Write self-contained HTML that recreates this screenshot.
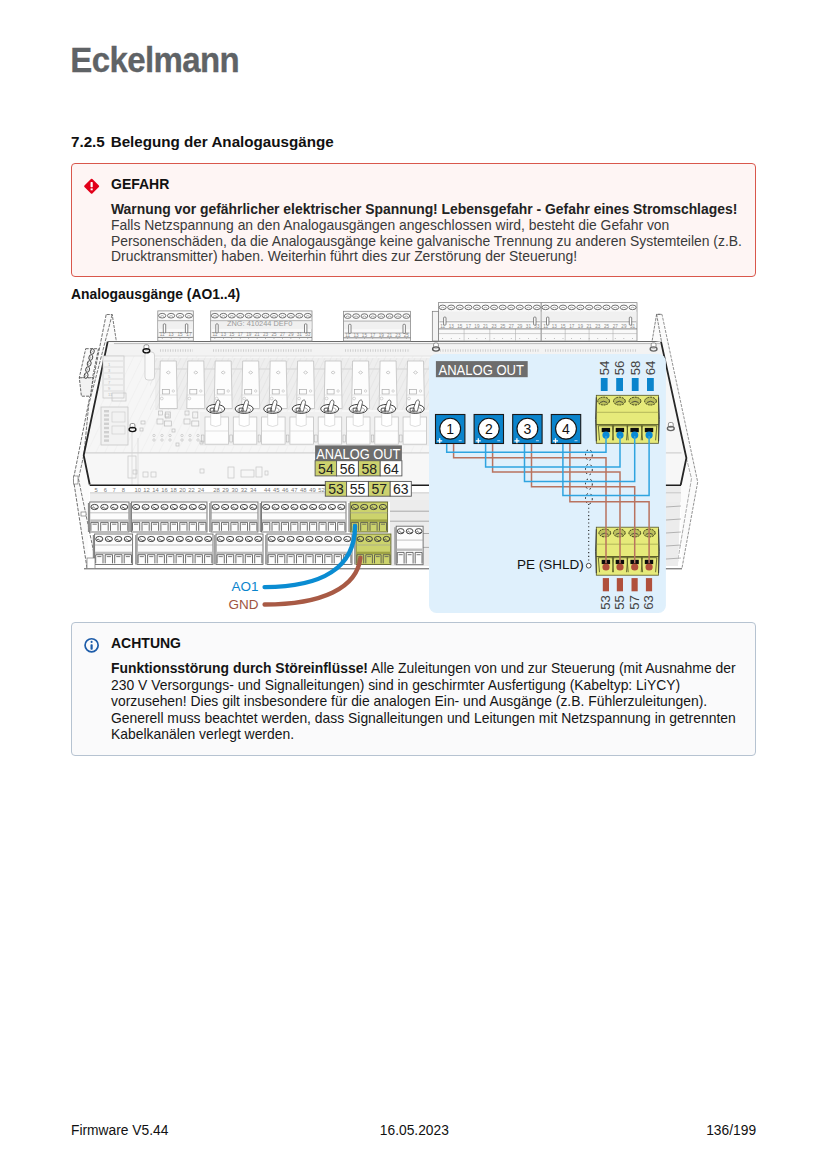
<!DOCTYPE html>
<html><head><meta charset="utf-8">
<style>
html,body{margin:0;padding:0;background:#fff;}
body{width:827px;height:1169px;position:relative;overflow:hidden;font-family:"Liberation Sans",sans-serif;color:#222;}
.abs{position:absolute;white-space:nowrap;}
.box{position:absolute;border-radius:4px;box-sizing:border-box;}
#danger{left:70.8px;top:162.9px;width:685.2px;height:114.1px;border:1.8px solid #d9574c;background:#fef5f4;}
#warn{left:70.8px;top:622.1px;width:685.3px;height:133.9px;border:1.8px solid #b6c3d1;background:#fafafb;}
</style></head>
<body>
<div class="abs" style="left:70.3px;top:41.07px;font-size:33px;line-height:40px;color:#5f6366;font-weight:bold;letter-spacing:-0.62px;-webkit-text-stroke:0.3px #5f6366;transform:scaleY(1.065);transform-origin:0 31.5px;">Eckelmann</div>
<div class="abs" style="left:71px;top:132.78px;font-size:15.2px;line-height:18px;color:#111;font-weight:bold;">7.2.5</div>
<div class="abs" style="left:110.7px;top:132.78px;font-size:15.2px;line-height:18px;color:#111;font-weight:bold;">Belegung der Analogausgänge</div>
<div class="box" id="danger"></div>
<svg class="abs" style="left:83px;top:178px" width="17" height="17" viewBox="0 0 17 17"><polygon points="8.65,1.7 15.15,8.2 8.65,14.7 2.15,8.2" fill="#e2001a" stroke="#e2001a" stroke-width="2" stroke-linejoin="round"/><rect x="7.55" y="4.1" width="2.2" height="5.1" rx="0.6" fill="#fff"/><rect x="7.6" y="10.4" width="2.1" height="1.9" fill="#fff"/></svg>
<div class="abs" style="left:111px;top:175.75px;font-size:14px;line-height:16px;color:#111;font-weight:bold;">GEFAHR</div>
<div class="abs" style="left:111px;top:200.88px;font-size:13.9px;line-height:16px;color:#3a3a3a;"><b style='color:#222'>Warnung vor gefährlicher elektrischer Spannung! Lebensgefahr - Gefahr eines Stromschlages!</b></div>
<div class="abs" style="left:111px;top:216.75px;font-size:13.9px;line-height:16px;color:#3a3a3a;">Falls Netzspannung an den Analogausgängen angeschlossen wird, besteht die Gefahr von</div>
<div class="abs" style="left:111px;top:232.62px;font-size:13.9px;line-height:16px;color:#3a3a3a;">Personenschäden, da die Analogausgänge keine galvanische Trennung zu anderen Systemteilen (z.B.</div>
<div class="abs" style="left:111px;top:248.49px;font-size:13.9px;line-height:16px;color:#3a3a3a;">Drucktransmitter) haben. Weiterhin führt dies zur Zerstörung der Steuerung!</div>
<div class="abs" style="left:71px;top:286.18px;font-size:13.9px;line-height:16px;color:#111;font-weight:bold;">Analogausgänge (AO1..4)</div>
<svg class="abs" style="left:0;top:0" width="827" height="1169" viewBox="0 0 827 1169" font-family="Liberation Sans, sans-serif">
<polygon points="107.7,341.6 660,341.6 686,458 680.7,485 89.7,485 83.7,455.3" fill="#f6f6f6"/>
<clipPath id="bodyclip"><polygon points="107.7,343 660,343 686,458 680.7,484 89.7,484 83.7,455.3"/></clipPath>
<path d="M-100,485 L-30,342 M-91,485 L-21,342 M-82,485 L-12,342 M-73,485 L-3,342 M-64,485 L6,342 M-55,485 L15,342 M-46,485 L24,342 M-37,485 L33,342 M-28,485 L42,342 M-19,485 L51,342 M-10,485 L60,342 M-1,485 L69,342 M8,485 L78,342 M17,485 L87,342 M26,485 L96,342 M35,485 L105,342 M44,485 L114,342 M53,485 L123,342 M62,485 L132,342 M71,485 L141,342 M80,485 L150,342 M89,485 L159,342 M98,485 L168,342 M107,485 L177,342 M116,485 L186,342 M125,485 L195,342 M134,485 L204,342 M143,485 L213,342 M152,485 L222,342 M161,485 L231,342 M170,485 L240,342 M179,485 L249,342 M188,485 L258,342 M197,485 L267,342 M206,485 L276,342 M215,485 L285,342 M224,485 L294,342 M233,485 L303,342 M242,485 L312,342 M251,485 L321,342 M260,485 L330,342 M269,485 L339,342 M278,485 L348,342 M287,485 L357,342 M296,485 L366,342 M305,485 L375,342 M314,485 L384,342 M323,485 L393,342 M332,485 L402,342 M341,485 L411,342 M350,485 L420,342 M359,485 L429,342 M368,485 L438,342 M377,485 L447,342 M386,485 L456,342 M395,485 L465,342 M404,485 L474,342 M413,485 L483,342 M422,485 L492,342 M431,485 L501,342 M440,485 L510,342 M449,485 L519,342 M458,485 L528,342 M467,485 L537,342 M476,485 L546,342 M485,485 L555,342 M494,485 L564,342 M503,485 L573,342 M512,485 L582,342 M521,485 L591,342 M530,485 L600,342 M539,485 L609,342 M548,485 L618,342 M557,485 L627,342 M566,485 L636,342 M575,485 L645,342 M584,485 L654,342 M593,485 L663,342 M602,485 L672,342 M611,485 L681,342" stroke="#ededed" stroke-width="0.6" clip-path="url(#bodyclip)"/>
<rect x="104" y="344" width="560" height="12" fill="#f3f3f3"/>
<line x1="104" y1="356" x2="664" y2="356" stroke="#dcdcdc" stroke-width="0.7"/>
<polygon points="84.5,452.4 681.5,452.4 680.7,485 89.7,485" fill="#f7f7f7"/>
<line x1="84.5" y1="452.9" x2="681.5" y2="452.9" stroke="#bdbdbd" stroke-width="0.8"/>
<polygon points="106.8,314.5 112.2,314.5 116.4,341.6 107.7,341.6 83.7,455.3 89.7,484.5 87,568 73.4,479.3" fill="#fbfbfb"/>
<polyline points="106.8,314.5 112.2,314.5 116.4,341.6" fill="none" stroke="#555" stroke-width="0.8" stroke-dasharray="3,1"/>
<polyline points="106.2,314.5 73.4,479.3 87,568" fill="none" stroke="#555" stroke-width="0.85" stroke-dasharray="3.5,1.3"/>
<polyline points="112.2,314.5 88.7,405 84,454 78.5,479 93.6,551.5" fill="none" stroke="#555" stroke-width="0.8" stroke-dasharray="3.5,1.3"/>
<rect x="73.5" y="476" width="4.5" height="8" fill="#fff" stroke="#666" stroke-width="0.6"/>
<rect x="81" y="512" width="5" height="4" fill="#fff" stroke="#666" stroke-width="0.6"/>
<polyline points="107.7,341.6 83.7,455.3 89.7,484.5" fill="none" stroke="#262626" stroke-width="1.8"/>
<polygon points="85.7,348.7 98.5,348.7 92.5,377.8 79.3,377.8" fill="#fafafa" stroke="#444" stroke-width="0.8" stroke-dasharray="3,1.2"/>
<polygon points="79.3,377.8 93,377.8 90.4,396.2 81.4,396.2" fill="#f2f2f2" stroke="#444" stroke-width="0.8" stroke-dasharray="3,1.2"/>
<ellipse cx="92.3" cy="351.5" rx="1.9" ry="2.8" transform="rotate(12 92.3 351.5)" fill="#fff" stroke="#333" stroke-width="0.85"/>
<path d="M91.5,350.3 q1.6,1.2 0,2.4" fill="none" stroke="#555" stroke-width="0.6"/>
<ellipse cx="90.8" cy="357.5" rx="1.9" ry="2.8" transform="rotate(12 90.8 357.5)" fill="#fff" stroke="#333" stroke-width="0.85"/>
<path d="M90.0,356.3 q1.6,1.2 0,2.4" fill="none" stroke="#555" stroke-width="0.6"/>
<ellipse cx="89.2" cy="363.5" rx="1.9" ry="2.8" transform="rotate(12 89.2 363.5)" fill="#fff" stroke="#333" stroke-width="0.85"/>
<path d="M88.4,362.3 q1.6,1.2 0,2.4" fill="none" stroke="#555" stroke-width="0.6"/>
<ellipse cx="87.6" cy="369.5" rx="1.9" ry="2.8" transform="rotate(12 87.6 369.5)" fill="#fff" stroke="#333" stroke-width="0.85"/>
<path d="M86.8,368.3 q1.6,1.2 0,2.4" fill="none" stroke="#555" stroke-width="0.6"/>
<ellipse cx="86.1" cy="375.5" rx="1.9" ry="2.8" transform="rotate(12 86.1 375.5)" fill="#fff" stroke="#333" stroke-width="0.85"/>
<path d="M85.3,374.3 q1.6,1.2 0,2.4" fill="none" stroke="#555" stroke-width="0.6"/>
<line x1="107.7" y1="341.5" x2="660" y2="341.5" stroke="#6a6a6a" stroke-width="1.2"/>
<line x1="114" y1="343.6" x2="660" y2="343.6" stroke="#aaa" stroke-width="0.8"/>
<polygon points="652.2,340.5 656.6,314.3 662,314.4 697.7,482 682,568 680.7,485 686.4,458 662,342" fill="#fbfbfb"/>
<polyline points="657,314.4 662,314.4 697.7,482 682,568" fill="none" stroke="#777" stroke-width="0.8" stroke-dasharray="3,1.2"/>
<polyline points="652.2,340.5 656.6,314.3 661.9,314.3" fill="none" stroke="#666" stroke-width="0.8" stroke-dasharray="3,1"/>
<polyline points="656.6,314.3 661.5,341.6" fill="none" stroke="#666" stroke-width="0.8" stroke-dasharray="3,1"/>
<polyline points="686.4,458 691.5,478.6 677,565" fill="none" stroke="#888" stroke-width="0.7" stroke-dasharray="4,1.2"/>
<polygon points="666,486 681,486 678,566 666,566" fill="#ececec"/>
<polyline points="661,341.6 686.4,458 680.7,485" fill="none" stroke="#262626" stroke-width="1.8"/>
<line x1="666" y1="495" x2="681" y2="494" stroke="#999" stroke-width="0.7"/>
<line x1="666" y1="507" x2="681" y2="506" stroke="#999" stroke-width="0.7"/>
<line x1="666" y1="520" x2="681" y2="519" stroke="#999" stroke-width="0.7"/>
<line x1="666" y1="533" x2="681" y2="532" stroke="#999" stroke-width="0.7"/>
<line x1="666" y1="546" x2="681" y2="545" stroke="#999" stroke-width="0.7"/>
<line x1="666" y1="559" x2="681" y2="558" stroke="#999" stroke-width="0.7"/>
<rect x="157.8" y="310.9" width="35.5" height="30.1" fill="#f9f9f9" stroke="#8a8a8a" stroke-width="0.8"/>
<rect x="158.3" y="319.9" width="34.5" height="9" fill="#f0f0f0"/>
<line x1="157.8" y1="320.7" x2="193.3" y2="320.7" stroke="#9a9a9a" stroke-width="0.7"/>
<line x1="158.8" y1="332.6" x2="192.3" y2="332.6" stroke="#8a8a8a" stroke-width="0.7"/>
<line x1="157.8" y1="337.4" x2="193.3" y2="337.4" stroke="#6a6a6a" stroke-width="0.8"/>
<ellipse cx="162.2" cy="315.7" rx="3.6" ry="2.3" fill="#fff" stroke="#5a5a5a" stroke-width="0.85"/>
<path d="M160.2,316.5 q2,-2 4,0" fill="none" stroke="#777" stroke-width="0.6"/>
<text x="162.2" y="336.2" font-size="4.6" fill="#8a8a8a" text-anchor="middle">11</text>
<circle cx="162.2" cy="338.5" r="0.45" fill="#888"/>
<ellipse cx="171.1" cy="315.7" rx="3.6" ry="2.3" fill="#fff" stroke="#5a5a5a" stroke-width="0.85"/>
<path d="M169.1,316.5 q2,-2 4,0" fill="none" stroke="#777" stroke-width="0.6"/>
<text x="171.1" y="336.2" font-size="4.6" fill="#8a8a8a" text-anchor="middle">13</text>
<circle cx="171.1" cy="338.5" r="0.45" fill="#888"/>
<ellipse cx="180.0" cy="315.7" rx="3.6" ry="2.3" fill="#fff" stroke="#5a5a5a" stroke-width="0.85"/>
<path d="M178.0,316.5 q2,-2 4,0" fill="none" stroke="#777" stroke-width="0.6"/>
<text x="180.0" y="336.2" font-size="4.6" fill="#8a8a8a" text-anchor="middle">15</text>
<circle cx="180.0" cy="338.5" r="0.45" fill="#888"/>
<ellipse cx="188.9" cy="315.7" rx="3.6" ry="2.3" fill="#fff" stroke="#5a5a5a" stroke-width="0.85"/>
<path d="M186.9,316.5 q2,-2 4,0" fill="none" stroke="#777" stroke-width="0.6"/>
<text x="188.9" y="336.2" font-size="4.6" fill="#8a8a8a" text-anchor="middle">17</text>
<circle cx="188.9" cy="338.5" r="0.45" fill="#888"/>
<rect x="163.3" y="323.9" width="2.4" height="9.0" rx="0.8" fill="#fff" stroke="#555" stroke-width="0.7"/>
<rect x="185.4" y="323.9" width="2.4" height="9.0" rx="0.8" fill="#fff" stroke="#555" stroke-width="0.7"/>
<rect x="210.7" y="310.9" width="101.3" height="30.1" fill="#f9f9f9" stroke="#8a8a8a" stroke-width="0.8"/>
<rect x="211.2" y="319.9" width="100.3" height="9" fill="#f0f0f0"/>
<line x1="210.7" y1="320.7" x2="312" y2="320.7" stroke="#9a9a9a" stroke-width="0.7"/>
<line x1="211.7" y1="332.6" x2="311" y2="332.6" stroke="#8a8a8a" stroke-width="0.7"/>
<line x1="210.7" y1="337.4" x2="312" y2="337.4" stroke="#6a6a6a" stroke-width="0.8"/>
<ellipse cx="214.9" cy="315.7" rx="3.5" ry="2.3" fill="#fff" stroke="#5a5a5a" stroke-width="0.85"/>
<path d="M212.9,316.5 q2,-2 4,0" fill="none" stroke="#777" stroke-width="0.6"/>
<text x="214.9" y="336.2" font-size="4.6" fill="#8a8a8a" text-anchor="middle">11</text>
<circle cx="214.9" cy="338.5" r="0.45" fill="#888"/>
<ellipse cx="223.4" cy="315.7" rx="3.5" ry="2.3" fill="#fff" stroke="#5a5a5a" stroke-width="0.85"/>
<path d="M221.4,316.5 q2,-2 4,0" fill="none" stroke="#777" stroke-width="0.6"/>
<text x="223.4" y="336.2" font-size="4.6" fill="#8a8a8a" text-anchor="middle">13</text>
<circle cx="223.4" cy="338.5" r="0.45" fill="#888"/>
<ellipse cx="231.8" cy="315.7" rx="3.5" ry="2.3" fill="#fff" stroke="#5a5a5a" stroke-width="0.85"/>
<path d="M229.8,316.5 q2,-2 4,0" fill="none" stroke="#777" stroke-width="0.6"/>
<text x="231.8" y="336.2" font-size="4.6" fill="#8a8a8a" text-anchor="middle">15</text>
<circle cx="231.8" cy="338.5" r="0.45" fill="#888"/>
<ellipse cx="240.2" cy="315.7" rx="3.5" ry="2.3" fill="#fff" stroke="#5a5a5a" stroke-width="0.85"/>
<path d="M238.2,316.5 q2,-2 4,0" fill="none" stroke="#777" stroke-width="0.6"/>
<text x="240.2" y="336.2" font-size="4.6" fill="#8a8a8a" text-anchor="middle">17</text>
<circle cx="240.2" cy="338.5" r="0.45" fill="#888"/>
<ellipse cx="248.7" cy="315.7" rx="3.5" ry="2.3" fill="#fff" stroke="#5a5a5a" stroke-width="0.85"/>
<path d="M246.7,316.5 q2,-2 4,0" fill="none" stroke="#777" stroke-width="0.6"/>
<text x="248.7" y="336.2" font-size="4.6" fill="#8a8a8a" text-anchor="middle">19</text>
<circle cx="248.7" cy="338.5" r="0.45" fill="#888"/>
<ellipse cx="257.1" cy="315.7" rx="3.5" ry="2.3" fill="#fff" stroke="#5a5a5a" stroke-width="0.85"/>
<path d="M255.1,316.5 q2,-2 4,0" fill="none" stroke="#777" stroke-width="0.6"/>
<text x="257.1" y="336.2" font-size="4.6" fill="#8a8a8a" text-anchor="middle">21</text>
<circle cx="257.1" cy="338.5" r="0.45" fill="#888"/>
<ellipse cx="265.6" cy="315.7" rx="3.5" ry="2.3" fill="#fff" stroke="#5a5a5a" stroke-width="0.85"/>
<path d="M263.6,316.5 q2,-2 4,0" fill="none" stroke="#777" stroke-width="0.6"/>
<text x="265.6" y="336.2" font-size="4.6" fill="#8a8a8a" text-anchor="middle">23</text>
<circle cx="265.6" cy="338.5" r="0.45" fill="#888"/>
<ellipse cx="274.0" cy="315.7" rx="3.5" ry="2.3" fill="#fff" stroke="#5a5a5a" stroke-width="0.85"/>
<path d="M272.0,316.5 q2,-2 4,0" fill="none" stroke="#777" stroke-width="0.6"/>
<text x="274.0" y="336.2" font-size="4.6" fill="#8a8a8a" text-anchor="middle">25</text>
<circle cx="274.0" cy="338.5" r="0.45" fill="#888"/>
<ellipse cx="282.5" cy="315.7" rx="3.5" ry="2.3" fill="#fff" stroke="#5a5a5a" stroke-width="0.85"/>
<path d="M280.5,316.5 q2,-2 4,0" fill="none" stroke="#777" stroke-width="0.6"/>
<text x="282.5" y="336.2" font-size="4.6" fill="#8a8a8a" text-anchor="middle">27</text>
<circle cx="282.5" cy="338.5" r="0.45" fill="#888"/>
<ellipse cx="290.9" cy="315.7" rx="3.5" ry="2.3" fill="#fff" stroke="#5a5a5a" stroke-width="0.85"/>
<path d="M288.9,316.5 q2,-2 4,0" fill="none" stroke="#777" stroke-width="0.6"/>
<text x="290.9" y="336.2" font-size="4.6" fill="#8a8a8a" text-anchor="middle">29</text>
<circle cx="290.9" cy="338.5" r="0.45" fill="#888"/>
<ellipse cx="299.3" cy="315.7" rx="3.5" ry="2.3" fill="#fff" stroke="#5a5a5a" stroke-width="0.85"/>
<path d="M297.3,316.5 q2,-2 4,0" fill="none" stroke="#777" stroke-width="0.6"/>
<text x="299.3" y="336.2" font-size="4.6" fill="#8a8a8a" text-anchor="middle">31</text>
<circle cx="299.3" cy="338.5" r="0.45" fill="#888"/>
<ellipse cx="307.8" cy="315.7" rx="3.5" ry="2.3" fill="#fff" stroke="#5a5a5a" stroke-width="0.85"/>
<path d="M305.8,316.5 q2,-2 4,0" fill="none" stroke="#777" stroke-width="0.6"/>
<text x="307.8" y="336.2" font-size="4.6" fill="#8a8a8a" text-anchor="middle">33</text>
<circle cx="307.8" cy="338.5" r="0.45" fill="#888"/>
<rect x="215.8" y="323.9" width="2.4" height="9.0" rx="0.8" fill="#fff" stroke="#555" stroke-width="0.7"/>
<rect x="304.5" y="323.9" width="2.4" height="9.0" rx="0.8" fill="#fff" stroke="#555" stroke-width="0.7"/>
<rect x="343.5" y="311.3" width="67.0" height="29.7" fill="#f9f9f9" stroke="#8a8a8a" stroke-width="0.8"/>
<rect x="344.0" y="320.3" width="66.0" height="9" fill="#f0f0f0"/>
<line x1="343.5" y1="321.1" x2="410.5" y2="321.1" stroke="#9a9a9a" stroke-width="0.7"/>
<line x1="344.5" y1="333.0" x2="409.5" y2="333.0" stroke="#8a8a8a" stroke-width="0.7"/>
<line x1="343.5" y1="337.8" x2="410.5" y2="337.8" stroke="#6a6a6a" stroke-width="0.8"/>
<ellipse cx="347.7" cy="316.1" rx="3.4" ry="2.3" fill="#fff" stroke="#5a5a5a" stroke-width="0.85"/>
<path d="M345.7,316.9 q2,-2 4,0" fill="none" stroke="#777" stroke-width="0.6"/>
<text x="347.7" y="336.6" font-size="4.6" fill="#8a8a8a" text-anchor="middle">11</text>
<circle cx="347.7" cy="338.5" r="0.45" fill="#888"/>
<ellipse cx="356.1" cy="316.1" rx="3.4" ry="2.3" fill="#fff" stroke="#5a5a5a" stroke-width="0.85"/>
<path d="M354.1,316.9 q2,-2 4,0" fill="none" stroke="#777" stroke-width="0.6"/>
<text x="356.1" y="336.6" font-size="4.6" fill="#8a8a8a" text-anchor="middle">13</text>
<circle cx="356.1" cy="338.5" r="0.45" fill="#888"/>
<ellipse cx="364.4" cy="316.1" rx="3.4" ry="2.3" fill="#fff" stroke="#5a5a5a" stroke-width="0.85"/>
<path d="M362.4,316.9 q2,-2 4,0" fill="none" stroke="#777" stroke-width="0.6"/>
<text x="364.4" y="336.6" font-size="4.6" fill="#8a8a8a" text-anchor="middle">15</text>
<circle cx="364.4" cy="338.5" r="0.45" fill="#888"/>
<ellipse cx="372.8" cy="316.1" rx="3.4" ry="2.3" fill="#fff" stroke="#5a5a5a" stroke-width="0.85"/>
<path d="M370.8,316.9 q2,-2 4,0" fill="none" stroke="#777" stroke-width="0.6"/>
<text x="372.8" y="336.6" font-size="4.6" fill="#8a8a8a" text-anchor="middle">17</text>
<circle cx="372.8" cy="338.5" r="0.45" fill="#888"/>
<ellipse cx="381.2" cy="316.1" rx="3.4" ry="2.3" fill="#fff" stroke="#5a5a5a" stroke-width="0.85"/>
<path d="M379.2,316.9 q2,-2 4,0" fill="none" stroke="#777" stroke-width="0.6"/>
<text x="381.2" y="336.6" font-size="4.6" fill="#8a8a8a" text-anchor="middle">19</text>
<circle cx="381.2" cy="338.5" r="0.45" fill="#888"/>
<ellipse cx="389.6" cy="316.1" rx="3.4" ry="2.3" fill="#fff" stroke="#5a5a5a" stroke-width="0.85"/>
<path d="M387.6,316.9 q2,-2 4,0" fill="none" stroke="#777" stroke-width="0.6"/>
<text x="389.6" y="336.6" font-size="4.6" fill="#8a8a8a" text-anchor="middle">21</text>
<circle cx="389.6" cy="338.5" r="0.45" fill="#888"/>
<ellipse cx="397.9" cy="316.1" rx="3.4" ry="2.3" fill="#fff" stroke="#5a5a5a" stroke-width="0.85"/>
<path d="M395.9,316.9 q2,-2 4,0" fill="none" stroke="#777" stroke-width="0.6"/>
<text x="397.9" y="336.6" font-size="4.6" fill="#8a8a8a" text-anchor="middle">23</text>
<circle cx="397.9" cy="338.5" r="0.45" fill="#888"/>
<ellipse cx="406.3" cy="316.1" rx="3.4" ry="2.3" fill="#fff" stroke="#5a5a5a" stroke-width="0.85"/>
<path d="M404.3,316.9 q2,-2 4,0" fill="none" stroke="#777" stroke-width="0.6"/>
<text x="406.3" y="336.6" font-size="4.6" fill="#8a8a8a" text-anchor="middle">25</text>
<circle cx="406.3" cy="338.5" r="0.45" fill="#888"/>
<rect x="348.6" y="324.3" width="2.4" height="9.0" rx="0.8" fill="#fff" stroke="#555" stroke-width="0.7"/>
<rect x="403.0" y="324.3" width="2.4" height="9.0" rx="0.8" fill="#fff" stroke="#555" stroke-width="0.7"/>
<rect x="438.4" y="302.6" width="102.8" height="38.4" fill="#f9f9f9" stroke="#8a8a8a" stroke-width="0.8"/>
<rect x="438.9" y="311.6" width="101.8" height="9" fill="#f0f0f0"/>
<line x1="438.4" y1="333.6" x2="541.2" y2="333.6" stroke="#b0b0b0" stroke-width="0.6"/>
<line x1="464.1" y1="328.9" x2="464.1" y2="341" stroke="#b0b0b0" stroke-width="0.6"/>
<line x1="489.8" y1="328.9" x2="489.8" y2="341" stroke="#b0b0b0" stroke-width="0.6"/>
<line x1="515.5" y1="328.9" x2="515.5" y2="341" stroke="#b0b0b0" stroke-width="0.6"/>
<line x1="439.4" y1="321.8" x2="540.2" y2="321.8" stroke="#8a8a8a" stroke-width="0.7"/>
<line x1="438.4" y1="328.9" x2="541.2" y2="328.9" stroke="#6a6a6a" stroke-width="0.8"/>
<ellipse cx="442.7" cy="307.4" rx="3.5" ry="2.3" fill="#fff" stroke="#5a5a5a" stroke-width="0.85"/>
<path d="M440.7,308.2 q2,-2 4,0" fill="none" stroke="#777" stroke-width="0.6"/>
<text x="442.7" y="327.9" font-size="4.6" fill="#8a8a8a" text-anchor="middle">11</text>
<circle cx="442.7" cy="338.5" r="0.45" fill="#888"/>
<ellipse cx="451.2" cy="307.4" rx="3.5" ry="2.3" fill="#fff" stroke="#5a5a5a" stroke-width="0.85"/>
<path d="M449.2,308.2 q2,-2 4,0" fill="none" stroke="#777" stroke-width="0.6"/>
<text x="451.2" y="327.9" font-size="4.6" fill="#8a8a8a" text-anchor="middle">13</text>
<circle cx="451.2" cy="338.5" r="0.45" fill="#888"/>
<ellipse cx="459.8" cy="307.4" rx="3.5" ry="2.3" fill="#fff" stroke="#5a5a5a" stroke-width="0.85"/>
<path d="M457.8,308.2 q2,-2 4,0" fill="none" stroke="#777" stroke-width="0.6"/>
<text x="459.8" y="327.9" font-size="4.6" fill="#8a8a8a" text-anchor="middle">15</text>
<circle cx="459.8" cy="338.5" r="0.45" fill="#888"/>
<ellipse cx="468.4" cy="307.4" rx="3.5" ry="2.3" fill="#fff" stroke="#5a5a5a" stroke-width="0.85"/>
<path d="M466.4,308.2 q2,-2 4,0" fill="none" stroke="#777" stroke-width="0.6"/>
<text x="468.4" y="327.9" font-size="4.6" fill="#8a8a8a" text-anchor="middle">17</text>
<circle cx="468.4" cy="338.5" r="0.45" fill="#888"/>
<ellipse cx="476.9" cy="307.4" rx="3.5" ry="2.3" fill="#fff" stroke="#5a5a5a" stroke-width="0.85"/>
<path d="M474.9,308.2 q2,-2 4,0" fill="none" stroke="#777" stroke-width="0.6"/>
<text x="476.9" y="327.9" font-size="4.6" fill="#8a8a8a" text-anchor="middle">19</text>
<circle cx="476.9" cy="338.5" r="0.45" fill="#888"/>
<ellipse cx="485.5" cy="307.4" rx="3.5" ry="2.3" fill="#fff" stroke="#5a5a5a" stroke-width="0.85"/>
<path d="M483.5,308.2 q2,-2 4,0" fill="none" stroke="#777" stroke-width="0.6"/>
<text x="485.5" y="327.9" font-size="4.6" fill="#8a8a8a" text-anchor="middle">21</text>
<circle cx="485.5" cy="338.5" r="0.45" fill="#888"/>
<ellipse cx="494.1" cy="307.4" rx="3.5" ry="2.3" fill="#fff" stroke="#5a5a5a" stroke-width="0.85"/>
<path d="M492.1,308.2 q2,-2 4,0" fill="none" stroke="#777" stroke-width="0.6"/>
<text x="494.1" y="327.9" font-size="4.6" fill="#8a8a8a" text-anchor="middle">23</text>
<circle cx="494.1" cy="338.5" r="0.45" fill="#888"/>
<ellipse cx="502.7" cy="307.4" rx="3.5" ry="2.3" fill="#fff" stroke="#5a5a5a" stroke-width="0.85"/>
<path d="M500.7,308.2 q2,-2 4,0" fill="none" stroke="#777" stroke-width="0.6"/>
<text x="502.7" y="327.9" font-size="4.6" fill="#8a8a8a" text-anchor="middle">25</text>
<circle cx="502.7" cy="338.5" r="0.45" fill="#888"/>
<ellipse cx="511.2" cy="307.4" rx="3.5" ry="2.3" fill="#fff" stroke="#5a5a5a" stroke-width="0.85"/>
<path d="M509.2,308.2 q2,-2 4,0" fill="none" stroke="#777" stroke-width="0.6"/>
<text x="511.2" y="327.9" font-size="4.6" fill="#8a8a8a" text-anchor="middle">27</text>
<circle cx="511.2" cy="338.5" r="0.45" fill="#888"/>
<ellipse cx="519.8" cy="307.4" rx="3.5" ry="2.3" fill="#fff" stroke="#5a5a5a" stroke-width="0.85"/>
<path d="M517.8,308.2 q2,-2 4,0" fill="none" stroke="#777" stroke-width="0.6"/>
<text x="519.8" y="327.9" font-size="4.6" fill="#8a8a8a" text-anchor="middle">29</text>
<circle cx="519.8" cy="338.5" r="0.45" fill="#888"/>
<ellipse cx="528.4" cy="307.4" rx="3.5" ry="2.3" fill="#fff" stroke="#5a5a5a" stroke-width="0.85"/>
<path d="M526.4,308.2 q2,-2 4,0" fill="none" stroke="#777" stroke-width="0.6"/>
<text x="528.4" y="327.9" font-size="4.6" fill="#8a8a8a" text-anchor="middle">31</text>
<circle cx="528.4" cy="338.5" r="0.45" fill="#888"/>
<ellipse cx="536.9" cy="307.4" rx="3.5" ry="2.3" fill="#fff" stroke="#5a5a5a" stroke-width="0.85"/>
<path d="M534.9,308.2 q2,-2 4,0" fill="none" stroke="#777" stroke-width="0.6"/>
<text x="536.9" y="327.9" font-size="4.6" fill="#8a8a8a" text-anchor="middle">33</text>
<circle cx="536.9" cy="338.5" r="0.45" fill="#888"/>
<rect x="443.6" y="317.1" width="2.4" height="8.0" rx="0.8" fill="#fff" stroke="#555" stroke-width="0.7"/>
<rect x="533.6" y="317.1" width="2.4" height="8.0" rx="0.8" fill="#fff" stroke="#555" stroke-width="0.7"/>
<rect x="541.2" y="302.6" width="95.8" height="38.4" fill="#f9f9f9" stroke="#8a8a8a" stroke-width="0.8"/>
<rect x="541.7" y="311.6" width="94.8" height="9" fill="#f0f0f0"/>
<line x1="541.2" y1="333.6" x2="637" y2="333.6" stroke="#b0b0b0" stroke-width="0.6"/>
<line x1="565.2" y1="328.9" x2="565.2" y2="341" stroke="#b0b0b0" stroke-width="0.6"/>
<line x1="589.1" y1="328.9" x2="589.1" y2="341" stroke="#b0b0b0" stroke-width="0.6"/>
<line x1="613.0" y1="328.9" x2="613.0" y2="341" stroke="#b0b0b0" stroke-width="0.6"/>
<line x1="542.2" y1="321.8" x2="636" y2="321.8" stroke="#8a8a8a" stroke-width="0.7"/>
<line x1="541.2" y1="328.9" x2="637" y2="328.9" stroke="#6a6a6a" stroke-width="0.8"/>
<ellipse cx="545.6" cy="307.4" rx="3.6" ry="2.3" fill="#fff" stroke="#5a5a5a" stroke-width="0.85"/>
<path d="M543.6,308.2 q2,-2 4,0" fill="none" stroke="#777" stroke-width="0.6"/>
<text x="545.6" y="327.9" font-size="4.6" fill="#8a8a8a" text-anchor="middle">11</text>
<circle cx="545.6" cy="338.5" r="0.45" fill="#888"/>
<ellipse cx="554.3" cy="307.4" rx="3.6" ry="2.3" fill="#fff" stroke="#5a5a5a" stroke-width="0.85"/>
<path d="M552.3,308.2 q2,-2 4,0" fill="none" stroke="#777" stroke-width="0.6"/>
<text x="554.3" y="327.9" font-size="4.6" fill="#8a8a8a" text-anchor="middle">13</text>
<circle cx="554.3" cy="338.5" r="0.45" fill="#888"/>
<ellipse cx="563.0" cy="307.4" rx="3.6" ry="2.3" fill="#fff" stroke="#5a5a5a" stroke-width="0.85"/>
<path d="M561.0,308.2 q2,-2 4,0" fill="none" stroke="#777" stroke-width="0.6"/>
<text x="563.0" y="327.9" font-size="4.6" fill="#8a8a8a" text-anchor="middle">15</text>
<circle cx="563.0" cy="338.5" r="0.45" fill="#888"/>
<ellipse cx="571.7" cy="307.4" rx="3.6" ry="2.3" fill="#fff" stroke="#5a5a5a" stroke-width="0.85"/>
<path d="M569.7,308.2 q2,-2 4,0" fill="none" stroke="#777" stroke-width="0.6"/>
<text x="571.7" y="327.9" font-size="4.6" fill="#8a8a8a" text-anchor="middle">17</text>
<circle cx="571.7" cy="338.5" r="0.45" fill="#888"/>
<ellipse cx="580.4" cy="307.4" rx="3.6" ry="2.3" fill="#fff" stroke="#5a5a5a" stroke-width="0.85"/>
<path d="M578.4,308.2 q2,-2 4,0" fill="none" stroke="#777" stroke-width="0.6"/>
<text x="580.4" y="327.9" font-size="4.6" fill="#8a8a8a" text-anchor="middle">19</text>
<circle cx="580.4" cy="338.5" r="0.45" fill="#888"/>
<ellipse cx="589.1" cy="307.4" rx="3.6" ry="2.3" fill="#fff" stroke="#5a5a5a" stroke-width="0.85"/>
<path d="M587.1,308.2 q2,-2 4,0" fill="none" stroke="#777" stroke-width="0.6"/>
<text x="589.1" y="327.9" font-size="4.6" fill="#8a8a8a" text-anchor="middle">21</text>
<circle cx="589.1" cy="338.5" r="0.45" fill="#888"/>
<ellipse cx="597.8" cy="307.4" rx="3.6" ry="2.3" fill="#fff" stroke="#5a5a5a" stroke-width="0.85"/>
<path d="M595.8,308.2 q2,-2 4,0" fill="none" stroke="#777" stroke-width="0.6"/>
<text x="597.8" y="327.9" font-size="4.6" fill="#8a8a8a" text-anchor="middle">23</text>
<circle cx="597.8" cy="338.5" r="0.45" fill="#888"/>
<ellipse cx="606.5" cy="307.4" rx="3.6" ry="2.3" fill="#fff" stroke="#5a5a5a" stroke-width="0.85"/>
<path d="M604.5,308.2 q2,-2 4,0" fill="none" stroke="#777" stroke-width="0.6"/>
<text x="606.5" y="327.9" font-size="4.6" fill="#8a8a8a" text-anchor="middle">25</text>
<circle cx="606.5" cy="338.5" r="0.45" fill="#888"/>
<ellipse cx="615.2" cy="307.4" rx="3.6" ry="2.3" fill="#fff" stroke="#5a5a5a" stroke-width="0.85"/>
<path d="M613.2,308.2 q2,-2 4,0" fill="none" stroke="#777" stroke-width="0.6"/>
<text x="615.2" y="327.9" font-size="4.6" fill="#8a8a8a" text-anchor="middle">27</text>
<circle cx="615.2" cy="338.5" r="0.45" fill="#888"/>
<ellipse cx="623.9" cy="307.4" rx="3.6" ry="2.3" fill="#fff" stroke="#5a5a5a" stroke-width="0.85"/>
<path d="M621.9,308.2 q2,-2 4,0" fill="none" stroke="#777" stroke-width="0.6"/>
<text x="623.9" y="327.9" font-size="4.6" fill="#8a8a8a" text-anchor="middle">29</text>
<circle cx="623.9" cy="338.5" r="0.45" fill="#888"/>
<ellipse cx="632.6" cy="307.4" rx="3.6" ry="2.3" fill="#fff" stroke="#5a5a5a" stroke-width="0.85"/>
<path d="M630.6,308.2 q2,-2 4,0" fill="none" stroke="#777" stroke-width="0.6"/>
<text x="632.6" y="327.9" font-size="4.6" fill="#8a8a8a" text-anchor="middle">31</text>
<circle cx="632.6" cy="338.5" r="0.45" fill="#888"/>
<rect x="546.5" y="317.1" width="2.4" height="8.0" rx="0.8" fill="#fff" stroke="#555" stroke-width="0.7"/>
<rect x="629.3" y="317.1" width="2.4" height="8.0" rx="0.8" fill="#fff" stroke="#555" stroke-width="0.7"/>
<rect x="432.3" y="311.3" width="6.1" height="29.7" fill="#f4f4f4" stroke="#777" stroke-width="0.7"/>
<text x="227" y="325.8" font-size="7.4" fill="#9a9a9a">ZNG: 410244 DEF0</text>
<line x1="160" y1="350.5" x2="193" y2="350.5" stroke="#d0d0d0" stroke-width="2.5" stroke-dasharray="1,1.5"/>
<line x1="213" y1="350.5" x2="312" y2="350.5" stroke="#d0d0d0" stroke-width="2.5" stroke-dasharray="1,1.5"/>
<line x1="345" y1="350.5" x2="410" y2="350.5" stroke="#d0d0d0" stroke-width="2.5" stroke-dasharray="1,1.5"/>
<line x1="440" y1="350.5" x2="540" y2="350.5" stroke="#d0d0d0" stroke-width="2.5" stroke-dasharray="1,1.5"/>
<line x1="545" y1="350.5" x2="637" y2="350.5" stroke="#d0d0d0" stroke-width="2.5" stroke-dasharray="1,1.5"/>
<rect x="155" y="358" width="275" height="52" fill="#eeeeee"/>
<path d="M126,410 L151,358 M132,410 L157,358 M138,410 L163,358 M144,410 L169,358 M150,410 L175,358 M156,410 L181,358 M162,410 L187,358 M168,410 L193,358 M174,410 L199,358 M180,410 L205,358 M186,410 L211,358 M192,410 L217,358 M198,410 L223,358 M204,410 L229,358 M210,410 L235,358 M216,410 L241,358 M222,410 L247,358 M228,410 L253,358 M234,410 L259,358 M240,410 L265,358 M246,410 L271,358 M252,410 L277,358 M258,410 L283,358 M264,410 L289,358 M270,410 L295,358 M276,410 L301,358 M282,410 L307,358 M288,410 L313,358 M294,410 L319,358 M300,410 L325,358 M306,410 L331,358 M312,410 L337,358 M318,410 L343,358 M324,410 L349,358 M330,410 L355,358 M336,410 L361,358 M342,410 L367,358 M348,410 L373,358 M354,410 L379,358 M360,410 L385,358 M366,410 L391,358 M372,410 L397,358 M378,410 L403,358 M384,410 L409,358 M390,410 L415,358 M396,410 L421,358 M402,410 L427,358 M408,410 L433,358 M414,410 L439,358 M420,410 L445,358 M426,410 L451,358" stroke="#e2e2e2" stroke-width="0.7" clip-path="url(#relclip)"/>
<clipPath id="relclip"><rect x="150" y="358" width="280" height="52"/></clipPath>
<line x1="150" y1="369" x2="430" y2="369" stroke="#dddddd" stroke-width="1.5"/>
<rect x="200" y="412" width="230" height="34" fill="#f0f0f0"/>
<path d="M160.3,361 H176.3 L177.3,408.5 H159.3 Z" fill="#fdfdfd" stroke="#c0c0c0" stroke-width="0.8"/>
<path d="M166.3,372.5 l2,-1.5 l2,1.5 l-2,1.5 z" fill="none" stroke="#aaa" stroke-width="0.6"/>
<rect x="162.3" y="389.5" width="7" height="4.5" fill="none" stroke="#a8a8a8" stroke-width="0.7"/>
<circle cx="173.3" cy="391" r="1.2" fill="none" stroke="#bbb" stroke-width="0.6"/>
<circle cx="161.8" cy="398.5" r="1.4" fill="none" stroke="#bbb" stroke-width="0.6"/>
<line x1="159.3" y1="395" x2="177.3" y2="395" stroke="#d4d4d4" stroke-width="0.6"/>
<rect x="165.3" y="412" width="5" height="6" fill="none" stroke="#bbb" stroke-width="0.7"/>
<rect x="164.3" y="421" width="7" height="5" fill="none" stroke="#bbb" stroke-width="0.7"/>
<path d="M187.8,361 H203.8 L204.8,408.5 H186.8 Z" fill="#fdfdfd" stroke="#c0c0c0" stroke-width="0.8"/>
<path d="M193.8,372.5 l2,-1.5 l2,1.5 l-2,1.5 z" fill="none" stroke="#aaa" stroke-width="0.6"/>
<rect x="189.8" y="389.5" width="7" height="4.5" fill="none" stroke="#a8a8a8" stroke-width="0.7"/>
<circle cx="200.8" cy="391" r="1.2" fill="none" stroke="#bbb" stroke-width="0.6"/>
<circle cx="189.3" cy="398.5" r="1.4" fill="none" stroke="#bbb" stroke-width="0.6"/>
<line x1="186.8" y1="395" x2="204.8" y2="395" stroke="#d4d4d4" stroke-width="0.6"/>
<rect x="192.8" y="412" width="5" height="6" fill="none" stroke="#bbb" stroke-width="0.7"/>
<rect x="191.8" y="421" width="7" height="5" fill="none" stroke="#bbb" stroke-width="0.7"/>
<path d="M215.2,361 H231.2 L232.2,408.5 H214.2 Z" fill="#fdfdfd" stroke="#c0c0c0" stroke-width="0.8"/>
<path d="M221.2,372.5 l2,-1.5 l2,1.5 l-2,1.5 z" fill="none" stroke="#aaa" stroke-width="0.6"/>
<rect x="217.2" y="389.5" width="7" height="4.5" fill="none" stroke="#a8a8a8" stroke-width="0.7"/>
<circle cx="228.2" cy="391" r="1.2" fill="none" stroke="#bbb" stroke-width="0.6"/>
<circle cx="216.7" cy="398.5" r="1.4" fill="none" stroke="#bbb" stroke-width="0.6"/>
<line x1="214.2" y1="395" x2="232.2" y2="395" stroke="#d4d4d4" stroke-width="0.6"/>
<rect x="205.0" y="417" width="23.5" height="27.2" fill="#fdfdfd" stroke="#c4c4c4" stroke-width="0.8"/>
<line x1="205.0" y1="431" x2="228.5" y2="431" stroke="#d0d0d0" stroke-width="0.6"/>
<path d="M210.7,410 V425 Q215.7,428 220.7,425 V410" fill="#fff" stroke="#c8c8c8" stroke-width="0.6"/>
<ellipse cx="215.7" cy="408.9" rx="9" ry="4.5" fill="#fff" stroke="#2a2a2a" stroke-width="0.9"/>
<ellipse cx="215.7" cy="410" rx="6.5" ry="2.6" fill="none" stroke="#888" stroke-width="0.6"/>
<path d="M213.1,411 L216.5,401.2 Q219.5,398.3 220.0,402.3 L217.9,411.3 Z" fill="#fff" stroke="#444" stroke-width="0.8"/>
<rect x="210.7" y="408.2" width="4" height="3" fill="none" stroke="#444" stroke-width="0.7"/>
<rect x="201.5" y="435" width="2.5" height="7" fill="none" stroke="#aaa" stroke-width="0.5"/>
<path d="M242.7,361 H258.7 L259.7,408.5 H241.7 Z" fill="#fdfdfd" stroke="#c0c0c0" stroke-width="0.8"/>
<path d="M248.7,372.5 l2,-1.5 l2,1.5 l-2,1.5 z" fill="none" stroke="#aaa" stroke-width="0.6"/>
<rect x="244.7" y="389.5" width="7" height="4.5" fill="none" stroke="#a8a8a8" stroke-width="0.7"/>
<circle cx="255.7" cy="391" r="1.2" fill="none" stroke="#bbb" stroke-width="0.6"/>
<circle cx="244.2" cy="398.5" r="1.4" fill="none" stroke="#bbb" stroke-width="0.6"/>
<line x1="241.7" y1="395" x2="259.7" y2="395" stroke="#d4d4d4" stroke-width="0.6"/>
<rect x="233.3" y="417" width="23.5" height="27.2" fill="#fdfdfd" stroke="#c4c4c4" stroke-width="0.8"/>
<line x1="233.3" y1="431" x2="256.8" y2="431" stroke="#d0d0d0" stroke-width="0.6"/>
<path d="M239.2,410 V425 Q244.2,428 249.2,425 V410" fill="#fff" stroke="#c8c8c8" stroke-width="0.6"/>
<ellipse cx="244.2" cy="408.9" rx="9" ry="4.5" fill="#fff" stroke="#2a2a2a" stroke-width="0.9"/>
<ellipse cx="244.2" cy="410" rx="6.5" ry="2.6" fill="none" stroke="#888" stroke-width="0.6"/>
<path d="M241.6,411 L245.0,401.2 Q248.0,398.3 248.5,402.3 L246.4,411.3 Z" fill="#fff" stroke="#444" stroke-width="0.8"/>
<rect x="239.2" y="408.2" width="4" height="3" fill="none" stroke="#444" stroke-width="0.7"/>
<rect x="229.8" y="435" width="2.5" height="7" fill="none" stroke="#aaa" stroke-width="0.5"/>
<path d="M270.2,361 H286.2 L287.2,408.5 H269.2 Z" fill="#fdfdfd" stroke="#c0c0c0" stroke-width="0.8"/>
<path d="M276.2,372.5 l2,-1.5 l2,1.5 l-2,1.5 z" fill="none" stroke="#aaa" stroke-width="0.6"/>
<rect x="272.2" y="389.5" width="7" height="4.5" fill="none" stroke="#a8a8a8" stroke-width="0.7"/>
<circle cx="283.2" cy="391" r="1.2" fill="none" stroke="#bbb" stroke-width="0.6"/>
<circle cx="271.7" cy="398.5" r="1.4" fill="none" stroke="#bbb" stroke-width="0.6"/>
<line x1="269.2" y1="395" x2="287.2" y2="395" stroke="#d4d4d4" stroke-width="0.6"/>
<rect x="261.6" y="417" width="23.5" height="27.2" fill="#fdfdfd" stroke="#c4c4c4" stroke-width="0.8"/>
<line x1="261.6" y1="431" x2="285.1" y2="431" stroke="#d0d0d0" stroke-width="0.6"/>
<path d="M267.7,410 V425 Q272.7,428 277.7,425 V410" fill="#fff" stroke="#c8c8c8" stroke-width="0.6"/>
<ellipse cx="272.7" cy="408.9" rx="9" ry="4.5" fill="#fff" stroke="#2a2a2a" stroke-width="0.9"/>
<ellipse cx="272.7" cy="410" rx="6.5" ry="2.6" fill="none" stroke="#888" stroke-width="0.6"/>
<path d="M270.1,411 L273.5,401.2 Q276.5,398.3 277.0,402.3 L274.9,411.3 Z" fill="#fff" stroke="#444" stroke-width="0.8"/>
<rect x="267.7" y="408.2" width="4" height="3" fill="none" stroke="#444" stroke-width="0.7"/>
<rect x="258.1" y="435" width="2.5" height="7" fill="none" stroke="#aaa" stroke-width="0.5"/>
<path d="M297.6,361 H313.6 L314.6,408.5 H296.6 Z" fill="#fdfdfd" stroke="#c0c0c0" stroke-width="0.8"/>
<path d="M303.6,372.5 l2,-1.5 l2,1.5 l-2,1.5 z" fill="none" stroke="#aaa" stroke-width="0.6"/>
<rect x="299.6" y="389.5" width="7" height="4.5" fill="none" stroke="#a8a8a8" stroke-width="0.7"/>
<circle cx="310.6" cy="391" r="1.2" fill="none" stroke="#bbb" stroke-width="0.6"/>
<circle cx="299.1" cy="398.5" r="1.4" fill="none" stroke="#bbb" stroke-width="0.6"/>
<line x1="296.6" y1="395" x2="314.6" y2="395" stroke="#d4d4d4" stroke-width="0.6"/>
<rect x="289.9" y="417" width="23.5" height="27.2" fill="#fdfdfd" stroke="#c4c4c4" stroke-width="0.8"/>
<line x1="289.9" y1="431" x2="313.4" y2="431" stroke="#d0d0d0" stroke-width="0.6"/>
<path d="M296.2,410 V425 Q301.2,428 306.2,425 V410" fill="#fff" stroke="#c8c8c8" stroke-width="0.6"/>
<ellipse cx="301.2" cy="408.9" rx="9" ry="4.5" fill="#fff" stroke="#2a2a2a" stroke-width="0.9"/>
<ellipse cx="301.2" cy="410" rx="6.5" ry="2.6" fill="none" stroke="#888" stroke-width="0.6"/>
<path d="M298.6,411 L302.0,401.2 Q305.0,398.3 305.5,402.3 L303.4,411.3 Z" fill="#fff" stroke="#444" stroke-width="0.8"/>
<rect x="296.2" y="408.2" width="4" height="3" fill="none" stroke="#444" stroke-width="0.7"/>
<rect x="286.4" y="435" width="2.5" height="7" fill="none" stroke="#aaa" stroke-width="0.5"/>
<path d="M325.1,361 H341.1 L342.1,408.5 H324.1 Z" fill="#fdfdfd" stroke="#c0c0c0" stroke-width="0.8"/>
<path d="M331.1,372.5 l2,-1.5 l2,1.5 l-2,1.5 z" fill="none" stroke="#aaa" stroke-width="0.6"/>
<rect x="327.1" y="389.5" width="7" height="4.5" fill="none" stroke="#a8a8a8" stroke-width="0.7"/>
<circle cx="338.1" cy="391" r="1.2" fill="none" stroke="#bbb" stroke-width="0.6"/>
<circle cx="326.6" cy="398.5" r="1.4" fill="none" stroke="#bbb" stroke-width="0.6"/>
<line x1="324.1" y1="395" x2="342.1" y2="395" stroke="#d4d4d4" stroke-width="0.6"/>
<rect x="318.2" y="417" width="23.5" height="27.2" fill="#fdfdfd" stroke="#c4c4c4" stroke-width="0.8"/>
<line x1="318.2" y1="431" x2="341.7" y2="431" stroke="#d0d0d0" stroke-width="0.6"/>
<path d="M324.7,410 V425 Q329.7,428 334.7,425 V410" fill="#fff" stroke="#c8c8c8" stroke-width="0.6"/>
<ellipse cx="329.7" cy="408.9" rx="9" ry="4.5" fill="#fff" stroke="#2a2a2a" stroke-width="0.9"/>
<ellipse cx="329.7" cy="410" rx="6.5" ry="2.6" fill="none" stroke="#888" stroke-width="0.6"/>
<path d="M327.1,411 L330.5,401.2 Q333.5,398.3 334.0,402.3 L331.9,411.3 Z" fill="#fff" stroke="#444" stroke-width="0.8"/>
<rect x="324.7" y="408.2" width="4" height="3" fill="none" stroke="#444" stroke-width="0.7"/>
<rect x="314.7" y="435" width="2.5" height="7" fill="none" stroke="#aaa" stroke-width="0.5"/>
<path d="M352.6,361 H368.6 L369.6,408.5 H351.6 Z" fill="#fdfdfd" stroke="#c0c0c0" stroke-width="0.8"/>
<path d="M358.6,372.5 l2,-1.5 l2,1.5 l-2,1.5 z" fill="none" stroke="#aaa" stroke-width="0.6"/>
<rect x="354.6" y="389.5" width="7" height="4.5" fill="none" stroke="#a8a8a8" stroke-width="0.7"/>
<circle cx="365.6" cy="391" r="1.2" fill="none" stroke="#bbb" stroke-width="0.6"/>
<circle cx="354.1" cy="398.5" r="1.4" fill="none" stroke="#bbb" stroke-width="0.6"/>
<line x1="351.6" y1="395" x2="369.6" y2="395" stroke="#d4d4d4" stroke-width="0.6"/>
<rect x="346.5" y="417" width="23.5" height="27.2" fill="#fdfdfd" stroke="#c4c4c4" stroke-width="0.8"/>
<line x1="346.5" y1="431" x2="370.0" y2="431" stroke="#d0d0d0" stroke-width="0.6"/>
<path d="M353.2,410 V425 Q358.2,428 363.2,425 V410" fill="#fff" stroke="#c8c8c8" stroke-width="0.6"/>
<ellipse cx="358.2" cy="408.9" rx="9" ry="4.5" fill="#fff" stroke="#2a2a2a" stroke-width="0.9"/>
<ellipse cx="358.2" cy="410" rx="6.5" ry="2.6" fill="none" stroke="#888" stroke-width="0.6"/>
<path d="M355.6,411 L359.0,401.2 Q362.0,398.3 362.5,402.3 L360.4,411.3 Z" fill="#fff" stroke="#444" stroke-width="0.8"/>
<rect x="353.2" y="408.2" width="4" height="3" fill="none" stroke="#444" stroke-width="0.7"/>
<rect x="343.0" y="435" width="2.5" height="7" fill="none" stroke="#aaa" stroke-width="0.5"/>
<path d="M380.1,361 H396.1 L397.1,408.5 H379.1 Z" fill="#fdfdfd" stroke="#c0c0c0" stroke-width="0.8"/>
<path d="M386.1,372.5 l2,-1.5 l2,1.5 l-2,1.5 z" fill="none" stroke="#aaa" stroke-width="0.6"/>
<rect x="382.1" y="389.5" width="7" height="4.5" fill="none" stroke="#a8a8a8" stroke-width="0.7"/>
<circle cx="393.1" cy="391" r="1.2" fill="none" stroke="#bbb" stroke-width="0.6"/>
<circle cx="381.6" cy="398.5" r="1.4" fill="none" stroke="#bbb" stroke-width="0.6"/>
<line x1="379.1" y1="395" x2="397.1" y2="395" stroke="#d4d4d4" stroke-width="0.6"/>
<rect x="374.8" y="417" width="23.5" height="27.2" fill="#fdfdfd" stroke="#c4c4c4" stroke-width="0.8"/>
<line x1="374.8" y1="431" x2="398.3" y2="431" stroke="#d0d0d0" stroke-width="0.6"/>
<path d="M381.7,410 V425 Q386.7,428 391.7,425 V410" fill="#fff" stroke="#c8c8c8" stroke-width="0.6"/>
<ellipse cx="386.7" cy="408.9" rx="9" ry="4.5" fill="#fff" stroke="#2a2a2a" stroke-width="0.9"/>
<ellipse cx="386.7" cy="410" rx="6.5" ry="2.6" fill="none" stroke="#888" stroke-width="0.6"/>
<path d="M384.1,411 L387.5,401.2 Q390.5,398.3 391.0,402.3 L388.9,411.3 Z" fill="#fff" stroke="#444" stroke-width="0.8"/>
<rect x="381.7" y="408.2" width="4" height="3" fill="none" stroke="#444" stroke-width="0.7"/>
<rect x="371.3" y="435" width="2.5" height="7" fill="none" stroke="#aaa" stroke-width="0.5"/>
<path d="M407.5,361 H423.5 L424.5,408.5 H406.5 Z" fill="#fdfdfd" stroke="#c0c0c0" stroke-width="0.8"/>
<path d="M413.5,372.5 l2,-1.5 l2,1.5 l-2,1.5 z" fill="none" stroke="#aaa" stroke-width="0.6"/>
<rect x="409.5" y="389.5" width="7" height="4.5" fill="none" stroke="#a8a8a8" stroke-width="0.7"/>
<circle cx="420.5" cy="391" r="1.2" fill="none" stroke="#bbb" stroke-width="0.6"/>
<circle cx="409.0" cy="398.5" r="1.4" fill="none" stroke="#bbb" stroke-width="0.6"/>
<line x1="406.5" y1="395" x2="424.5" y2="395" stroke="#d4d4d4" stroke-width="0.6"/>
<rect x="403.1" y="417" width="23.5" height="27.2" fill="#fdfdfd" stroke="#c4c4c4" stroke-width="0.8"/>
<line x1="403.1" y1="431" x2="426.6" y2="431" stroke="#d0d0d0" stroke-width="0.6"/>
<path d="M410.2,410 V425 Q415.2,428 420.2,425 V410" fill="#fff" stroke="#c8c8c8" stroke-width="0.6"/>
<ellipse cx="415.2" cy="408.9" rx="9" ry="4.5" fill="#fff" stroke="#2a2a2a" stroke-width="0.9"/>
<ellipse cx="415.2" cy="410" rx="6.5" ry="2.6" fill="none" stroke="#888" stroke-width="0.6"/>
<path d="M412.6,411 L416.0,401.2 Q419.0,398.3 419.5,402.3 L417.4,411.3 Z" fill="#fff" stroke="#444" stroke-width="0.8"/>
<rect x="410.2" y="408.2" width="4" height="3" fill="none" stroke="#444" stroke-width="0.7"/>
<rect x="399.6" y="435" width="2.5" height="7" fill="none" stroke="#aaa" stroke-width="0.5"/>
<rect x="103" y="356" width="21" height="42" fill="#f4f4f4" stroke="#c4c4c4" stroke-width="0.7"/>
<line x1="104" y1="361" x2="123" y2="361" stroke="#cfcfcf" stroke-width="0.6"/>
<text x="108" y="366" font-size="4" fill="#bbb">1</text>
<line x1="104" y1="367" x2="123" y2="367" stroke="#cfcfcf" stroke-width="0.6"/>
<text x="108" y="372" font-size="4" fill="#bbb">3</text>
<line x1="104" y1="373" x2="123" y2="373" stroke="#cfcfcf" stroke-width="0.6"/>
<text x="108" y="378" font-size="4" fill="#bbb">5</text>
<line x1="104" y1="379" x2="123" y2="379" stroke="#cfcfcf" stroke-width="0.6"/>
<text x="108" y="384" font-size="4" fill="#bbb">7</text>
<line x1="104" y1="385" x2="123" y2="385" stroke="#cfcfcf" stroke-width="0.6"/>
<text x="108" y="390" font-size="4" fill="#bbb">9</text>
<line x1="104" y1="391" x2="123" y2="391" stroke="#cfcfcf" stroke-width="0.6"/>
<text x="108" y="396" font-size="4" fill="#bbb">11</text>
<rect x="112" y="393" width="14" height="8" fill="none" stroke="#c4c4c4" stroke-width="0.7"/>
<rect x="101" y="407" width="27" height="38" fill="#f2f2f2" stroke="#c0c0c0" stroke-width="0.7"/>
<rect x="104" y="410.0" width="5" height="2.4" fill="#d0d0d0"/>
<rect x="104" y="414.2" width="5" height="2.4" fill="#d0d0d0"/>
<rect x="104" y="418.4" width="5" height="2.4" fill="#d0d0d0"/>
<rect x="104" y="422.6" width="5" height="2.4" fill="#d0d0d0"/>
<rect x="104" y="426.8" width="5" height="2.4" fill="#d0d0d0"/>
<rect x="104" y="431.0" width="5" height="2.4" fill="#d0d0d0"/>
<rect x="104" y="435.2" width="5" height="2.4" fill="#d0d0d0"/>
<rect x="104" y="439.4" width="5" height="2.4" fill="#d0d0d0"/>
<rect x="112" y="412" width="13" height="10" fill="none" stroke="#c8c8c8" stroke-width="0.6"/>
<rect x="112" y="426" width="13" height="8" fill="none" stroke="#c8c8c8" stroke-width="0.6"/>
<rect x="145" y="352" width="9.5" height="28" rx="3" fill="#fafafa" stroke="#c4c4c4" stroke-width="0.7"/>
<rect x="158.5" y="411" width="4" height="4" fill="none" stroke="#bdbdbd" stroke-width="0.7"/>
<rect x="165" y="414" width="4" height="3" fill="none" stroke="#bdbdbd" stroke-width="0.7"/>
<rect x="157" y="419" width="6" height="5" fill="none" stroke="#bdbdbd" stroke-width="0.7"/>
<rect x="185" y="411" width="4" height="4" fill="none" stroke="#bdbdbd" stroke-width="0.7"/>
<rect x="184" y="419" width="6" height="5" fill="none" stroke="#bdbdbd" stroke-width="0.7"/>
<rect x="141" y="421" width="4" height="3" fill="none" stroke="#bdbdbd" stroke-width="0.7"/>
<rect x="140" y="428" width="3" height="3" fill="none" stroke="#bdbdbd" stroke-width="0.7"/>
<rect x="172" y="429" width="3" height="3" fill="none" stroke="#bdbdbd" stroke-width="0.7"/>
<rect x="200" y="441" width="3" height="3" fill="none" stroke="#bdbdbd" stroke-width="0.7"/>
<rect x="176" y="443" width="3" height="3" fill="none" stroke="#bdbdbd" stroke-width="0.7"/>
<circle cx="154" cy="435.5" r="1.2" fill="none" stroke="#bbb" stroke-width="0.6"/>
<circle cx="154" cy="440" r="1.2" fill="none" stroke="#bbb" stroke-width="0.6"/>
<circle cx="162" cy="435.5" r="1.2" fill="none" stroke="#bbb" stroke-width="0.6"/>
<circle cx="162" cy="440" r="1.2" fill="none" stroke="#bbb" stroke-width="0.6"/>
<circle cx="170" cy="435.5" r="1.2" fill="none" stroke="#bbb" stroke-width="0.6"/>
<circle cx="170" cy="440" r="1.2" fill="none" stroke="#bbb" stroke-width="0.6"/>
<circle cx="182" cy="435.5" r="1.2" fill="none" stroke="#bbb" stroke-width="0.6"/>
<circle cx="182" cy="440" r="1.2" fill="none" stroke="#bbb" stroke-width="0.6"/>
<circle cx="190" cy="435.5" r="1.2" fill="none" stroke="#bbb" stroke-width="0.6"/>
<circle cx="190" cy="440" r="1.2" fill="none" stroke="#bbb" stroke-width="0.6"/>
<circle cx="198" cy="435.5" r="1.2" fill="none" stroke="#bbb" stroke-width="0.6"/>
<circle cx="198" cy="440" r="1.2" fill="none" stroke="#bbb" stroke-width="0.6"/>
<rect x="228" y="467" width="6" height="11" fill="none" stroke="#c4c4c4" stroke-width="0.7"/>
<rect x="241" y="470" width="13" height="7" fill="none" stroke="#c4c4c4" stroke-width="0.7"/>
<rect x="256" y="467" width="6" height="10" fill="none" stroke="#c4c4c4" stroke-width="0.7"/>
<rect x="265" y="471" width="3" height="4" fill="none" stroke="#c4c4c4" stroke-width="0.7"/>
<rect x="133" y="470" width="4" height="4" fill="none" stroke="#c4c4c4" stroke-width="0.7"/>
<rect x="143" y="472" width="5" height="5" fill="none" stroke="#c4c4c4" stroke-width="0.7"/>
<rect x="151" y="472" width="5" height="5" fill="none" stroke="#c4c4c4" stroke-width="0.7"/>
<rect x="200" y="469" width="4" height="4" fill="none" stroke="#c4c4c4" stroke-width="0.7"/>
<rect x="128" y="456" width="8" height="22" fill="none" stroke="#c4c4c4" stroke-width="0.7"/>
<path d="M132,432 V485 M138,438 V485" stroke="#d4d4d4" stroke-width="0.7"/>
<rect x="144.0" y="344.8" width="4.8" height="5" rx="1.5" fill="#fff" stroke="#666" stroke-width="0.7"/>
<ellipse cx="146.4" cy="350.8" rx="3.4" ry="2.1" fill="none" stroke="#111" stroke-width="1.4"/>
<rect x="433.6" y="343.0" width="4.8" height="5" rx="1.5" fill="#fff" stroke="#666" stroke-width="0.7"/>
<ellipse cx="436" cy="349.0" rx="3.4" ry="2.1" fill="none" stroke="#555" stroke-width="1.4"/>
<rect x="651.2" y="343.0" width="4.8" height="5" rx="1.5" fill="#fff" stroke="#666" stroke-width="0.7"/>
<ellipse cx="653.6" cy="349.0" rx="3.4" ry="2.1" fill="none" stroke="#666" stroke-width="1.4"/>
<rect x="130.1" y="423.5" width="4.8" height="5" rx="1.5" fill="#fff" stroke="#666" stroke-width="0.7"/>
<ellipse cx="132.5" cy="429.5" rx="3.4" ry="2.1" fill="none" stroke="#111" stroke-width="1.4"/>
<rect x="668.4" y="422.5" width="4.8" height="5" rx="1.5" fill="#fff" stroke="#666" stroke-width="0.7"/>
<ellipse cx="670.8" cy="428.5" rx="3.4" ry="2.1" fill="none" stroke="#666" stroke-width="1.4"/>
<line x1="89.7" y1="485.3" x2="681" y2="485.3" stroke="#1e1e1e" stroke-width="1.4"/>
<rect x="90" y="493" width="591" height="9" fill="#eeeeee"/>
<line x1="90" y1="492.8" x2="681" y2="492.8" stroke="#b8b8b8" stroke-width="0.7"/>
<text x="96" y="491.5" font-size="5.8" fill="#7a7a7a" text-anchor="middle">5</text>
<text x="105.4" y="491.5" font-size="5.8" fill="#7a7a7a" text-anchor="middle">6</text>
<text x="114.2" y="491.5" font-size="5.8" fill="#7a7a7a" text-anchor="middle">7</text>
<text x="123.4" y="491.5" font-size="5.8" fill="#7a7a7a" text-anchor="middle">8</text>
<text x="137.8" y="491.5" font-size="5.8" fill="#7a7a7a" text-anchor="middle">10</text>
<text x="146.6" y="491.5" font-size="5.8" fill="#7a7a7a" text-anchor="middle">12</text>
<text x="155.6" y="491.5" font-size="5.8" fill="#7a7a7a" text-anchor="middle">14</text>
<text x="164.6" y="491.5" font-size="5.8" fill="#7a7a7a" text-anchor="middle">16</text>
<text x="173.6" y="491.5" font-size="5.8" fill="#7a7a7a" text-anchor="middle">18</text>
<text x="182.6" y="491.5" font-size="5.8" fill="#7a7a7a" text-anchor="middle">20</text>
<text x="191.6" y="491.5" font-size="5.8" fill="#7a7a7a" text-anchor="middle">22</text>
<text x="201" y="491.5" font-size="5.8" fill="#7a7a7a" text-anchor="middle">24</text>
<text x="216.4" y="491.5" font-size="5.8" fill="#7a7a7a" text-anchor="middle">28</text>
<text x="225.6" y="491.5" font-size="5.8" fill="#7a7a7a" text-anchor="middle">29</text>
<text x="234.8" y="491.5" font-size="5.8" fill="#7a7a7a" text-anchor="middle">30</text>
<text x="244" y="491.5" font-size="5.8" fill="#7a7a7a" text-anchor="middle">32</text>
<text x="253.2" y="491.5" font-size="5.8" fill="#7a7a7a" text-anchor="middle">34</text>
<text x="267.2" y="491.5" font-size="5.8" fill="#7a7a7a" text-anchor="middle">44</text>
<text x="276.2" y="491.5" font-size="5.8" fill="#7a7a7a" text-anchor="middle">45</text>
<text x="285.2" y="491.5" font-size="5.8" fill="#7a7a7a" text-anchor="middle">46</text>
<text x="294.2" y="491.5" font-size="5.8" fill="#7a7a7a" text-anchor="middle">47</text>
<text x="303.2" y="491.5" font-size="5.8" fill="#7a7a7a" text-anchor="middle">48</text>
<text x="312.4" y="491.5" font-size="5.8" fill="#7a7a7a" text-anchor="middle">49</text>
<text x="321.5" y="491.5" font-size="5.8" fill="#7a7a7a" text-anchor="middle">52</text>
<rect x="89.7" y="502" width="39.3" height="30.0" fill="#fcfcfc" stroke="#6a6a6a" stroke-width="0.9"/>
<line x1="89.7" y1="512.8" x2="129" y2="512.8" stroke="#9a9a9a" stroke-width="0.6"/>
<rect x="90.2" y="519.4" width="38.3" height="2.4" fill="#bdbdbd"/>
<ellipse cx="94.6" cy="507.0" rx="3.7" ry="2.6" fill="#fcfcfc" stroke="#3c3c3c" stroke-width="0.95"/>
<path d="M92.2,508.0 q1.2,-2 2.4,0 t2.4,0" fill="none" stroke="#3c3c3c" stroke-width="0.8"/>
<path d="M90.9,530.8 V522.4 H98.3 V530.8" fill="none" stroke="#4a4a4a" stroke-width="0.8"/>
<line x1="92.5" y1="524.2" x2="96.8" y2="524.2" stroke="#555" stroke-width="0.8"/>
<ellipse cx="104.4" cy="507.0" rx="3.7" ry="2.6" fill="#fcfcfc" stroke="#3c3c3c" stroke-width="0.95"/>
<path d="M102.0,508.0 q1.2,-2 2.4,0 t2.4,0" fill="none" stroke="#3c3c3c" stroke-width="0.8"/>
<path d="M100.7,530.8 V522.4 H108.2 V530.8" fill="none" stroke="#4a4a4a" stroke-width="0.8"/>
<line x1="102.3" y1="524.2" x2="106.6" y2="524.2" stroke="#555" stroke-width="0.8"/>
<ellipse cx="114.3" cy="507.0" rx="3.7" ry="2.6" fill="#fcfcfc" stroke="#3c3c3c" stroke-width="0.95"/>
<path d="M111.9,508.0 q1.2,-2 2.4,0 t2.4,0" fill="none" stroke="#3c3c3c" stroke-width="0.8"/>
<path d="M110.5,530.8 V522.4 H118.0 V530.8" fill="none" stroke="#4a4a4a" stroke-width="0.8"/>
<line x1="112.1" y1="524.2" x2="116.4" y2="524.2" stroke="#555" stroke-width="0.8"/>
<ellipse cx="124.1" cy="507.0" rx="3.7" ry="2.6" fill="#fcfcfc" stroke="#3c3c3c" stroke-width="0.95"/>
<path d="M121.7,508.0 q1.2,-2 2.4,0 t2.4,0" fill="none" stroke="#3c3c3c" stroke-width="0.8"/>
<path d="M120.4,530.8 V522.4 H127.8 V530.8" fill="none" stroke="#4a4a4a" stroke-width="0.8"/>
<line x1="121.9" y1="524.2" x2="126.2" y2="524.2" stroke="#555" stroke-width="0.8"/>
<line x1="88.5" y1="503" x2="88.5" y2="532" stroke="#8a8a8a" stroke-width="1.2"/>
<rect x="131.4" y="502" width="75.6" height="30.0" fill="#fcfcfc" stroke="#6a6a6a" stroke-width="0.9"/>
<line x1="131.4" y1="512.8" x2="207" y2="512.8" stroke="#9a9a9a" stroke-width="0.6"/>
<rect x="131.9" y="519.4" width="74.6" height="2.4" fill="#bdbdbd"/>
<ellipse cx="136.1" cy="507.0" rx="3.6" ry="2.6" fill="#fcfcfc" stroke="#3c3c3c" stroke-width="0.95"/>
<path d="M133.7,508.0 q1.2,-2 2.4,0 t2.4,0" fill="none" stroke="#3c3c3c" stroke-width="0.8"/>
<path d="M132.5,530.8 V522.4 H139.7 V530.8" fill="none" stroke="#4a4a4a" stroke-width="0.8"/>
<line x1="134.0" y1="524.2" x2="138.2" y2="524.2" stroke="#555" stroke-width="0.8"/>
<ellipse cx="145.6" cy="507.0" rx="3.6" ry="2.6" fill="#fcfcfc" stroke="#3c3c3c" stroke-width="0.95"/>
<path d="M143.2,508.0 q1.2,-2 2.4,0 t2.4,0" fill="none" stroke="#3c3c3c" stroke-width="0.8"/>
<path d="M142.0,530.8 V522.4 H149.2 V530.8" fill="none" stroke="#4a4a4a" stroke-width="0.8"/>
<line x1="143.5" y1="524.2" x2="147.7" y2="524.2" stroke="#555" stroke-width="0.8"/>
<ellipse cx="155.0" cy="507.0" rx="3.6" ry="2.6" fill="#fcfcfc" stroke="#3c3c3c" stroke-width="0.95"/>
<path d="M152.6,508.0 q1.2,-2 2.4,0 t2.4,0" fill="none" stroke="#3c3c3c" stroke-width="0.8"/>
<path d="M151.4,530.8 V522.4 H158.6 V530.8" fill="none" stroke="#4a4a4a" stroke-width="0.8"/>
<line x1="152.9" y1="524.2" x2="157.1" y2="524.2" stroke="#555" stroke-width="0.8"/>
<ellipse cx="164.5" cy="507.0" rx="3.6" ry="2.6" fill="#fcfcfc" stroke="#3c3c3c" stroke-width="0.95"/>
<path d="M162.1,508.0 q1.2,-2 2.4,0 t2.4,0" fill="none" stroke="#3c3c3c" stroke-width="0.8"/>
<path d="M160.9,530.8 V522.4 H168.1 V530.8" fill="none" stroke="#4a4a4a" stroke-width="0.8"/>
<line x1="162.4" y1="524.2" x2="166.6" y2="524.2" stroke="#555" stroke-width="0.8"/>
<ellipse cx="173.9" cy="507.0" rx="3.6" ry="2.6" fill="#fcfcfc" stroke="#3c3c3c" stroke-width="0.95"/>
<path d="M171.5,508.0 q1.2,-2 2.4,0 t2.4,0" fill="none" stroke="#3c3c3c" stroke-width="0.8"/>
<path d="M170.3,530.8 V522.4 H177.5 V530.8" fill="none" stroke="#4a4a4a" stroke-width="0.8"/>
<line x1="171.8" y1="524.2" x2="176.0" y2="524.2" stroke="#555" stroke-width="0.8"/>
<ellipse cx="183.4" cy="507.0" rx="3.6" ry="2.6" fill="#fcfcfc" stroke="#3c3c3c" stroke-width="0.95"/>
<path d="M181.0,508.0 q1.2,-2 2.4,0 t2.4,0" fill="none" stroke="#3c3c3c" stroke-width="0.8"/>
<path d="M179.8,530.8 V522.4 H187.0 V530.8" fill="none" stroke="#4a4a4a" stroke-width="0.8"/>
<line x1="181.3" y1="524.2" x2="185.5" y2="524.2" stroke="#555" stroke-width="0.8"/>
<ellipse cx="192.8" cy="507.0" rx="3.6" ry="2.6" fill="#fcfcfc" stroke="#3c3c3c" stroke-width="0.95"/>
<path d="M190.4,508.0 q1.2,-2 2.4,0 t2.4,0" fill="none" stroke="#3c3c3c" stroke-width="0.8"/>
<path d="M189.2,530.8 V522.4 H196.4 V530.8" fill="none" stroke="#4a4a4a" stroke-width="0.8"/>
<line x1="190.7" y1="524.2" x2="194.9" y2="524.2" stroke="#555" stroke-width="0.8"/>
<ellipse cx="202.3" cy="507.0" rx="3.6" ry="2.6" fill="#fcfcfc" stroke="#3c3c3c" stroke-width="0.95"/>
<path d="M199.9,508.0 q1.2,-2 2.4,0 t2.4,0" fill="none" stroke="#3c3c3c" stroke-width="0.8"/>
<path d="M198.7,530.8 V522.4 H205.9 V530.8" fill="none" stroke="#4a4a4a" stroke-width="0.8"/>
<line x1="200.2" y1="524.2" x2="204.4" y2="524.2" stroke="#555" stroke-width="0.8"/>
<line x1="130.20000000000002" y1="503" x2="130.20000000000002" y2="532" stroke="#8a8a8a" stroke-width="1.2"/>
<rect x="211" y="502" width="47.0" height="30.0" fill="#fcfcfc" stroke="#6a6a6a" stroke-width="0.9"/>
<line x1="211" y1="512.8" x2="258" y2="512.8" stroke="#9a9a9a" stroke-width="0.6"/>
<rect x="211.5" y="519.4" width="46.0" height="2.4" fill="#bdbdbd"/>
<ellipse cx="215.7" cy="507.0" rx="3.6" ry="2.6" fill="#fcfcfc" stroke="#3c3c3c" stroke-width="0.95"/>
<path d="M213.3,508.0 q1.2,-2 2.4,0 t2.4,0" fill="none" stroke="#3c3c3c" stroke-width="0.8"/>
<path d="M212.1,530.8 V522.4 H219.3 V530.8" fill="none" stroke="#4a4a4a" stroke-width="0.8"/>
<line x1="213.6" y1="524.2" x2="217.8" y2="524.2" stroke="#555" stroke-width="0.8"/>
<ellipse cx="225.1" cy="507.0" rx="3.6" ry="2.6" fill="#fcfcfc" stroke="#3c3c3c" stroke-width="0.95"/>
<path d="M222.7,508.0 q1.2,-2 2.4,0 t2.4,0" fill="none" stroke="#3c3c3c" stroke-width="0.8"/>
<path d="M221.5,530.8 V522.4 H228.7 V530.8" fill="none" stroke="#4a4a4a" stroke-width="0.8"/>
<line x1="223.0" y1="524.2" x2="227.2" y2="524.2" stroke="#555" stroke-width="0.8"/>
<ellipse cx="234.5" cy="507.0" rx="3.6" ry="2.6" fill="#fcfcfc" stroke="#3c3c3c" stroke-width="0.95"/>
<path d="M232.1,508.0 q1.2,-2 2.4,0 t2.4,0" fill="none" stroke="#3c3c3c" stroke-width="0.8"/>
<path d="M230.9,530.8 V522.4 H238.1 V530.8" fill="none" stroke="#4a4a4a" stroke-width="0.8"/>
<line x1="232.4" y1="524.2" x2="236.6" y2="524.2" stroke="#555" stroke-width="0.8"/>
<ellipse cx="243.9" cy="507.0" rx="3.6" ry="2.6" fill="#fcfcfc" stroke="#3c3c3c" stroke-width="0.95"/>
<path d="M241.5,508.0 q1.2,-2 2.4,0 t2.4,0" fill="none" stroke="#3c3c3c" stroke-width="0.8"/>
<path d="M240.3,530.8 V522.4 H247.5 V530.8" fill="none" stroke="#4a4a4a" stroke-width="0.8"/>
<line x1="241.8" y1="524.2" x2="246.0" y2="524.2" stroke="#555" stroke-width="0.8"/>
<ellipse cx="253.3" cy="507.0" rx="3.6" ry="2.6" fill="#fcfcfc" stroke="#3c3c3c" stroke-width="0.95"/>
<path d="M250.9,508.0 q1.2,-2 2.4,0 t2.4,0" fill="none" stroke="#3c3c3c" stroke-width="0.8"/>
<path d="M249.7,530.8 V522.4 H256.9 V530.8" fill="none" stroke="#4a4a4a" stroke-width="0.8"/>
<line x1="251.2" y1="524.2" x2="255.4" y2="524.2" stroke="#555" stroke-width="0.8"/>
<line x1="209.8" y1="503" x2="209.8" y2="532" stroke="#8a8a8a" stroke-width="1.2"/>
<rect x="261.5" y="502" width="84.5" height="30.0" fill="#fcfcfc" stroke="#6a6a6a" stroke-width="0.9"/>
<line x1="261.5" y1="512.8" x2="346" y2="512.8" stroke="#9a9a9a" stroke-width="0.6"/>
<rect x="262.0" y="519.4" width="83.5" height="2.4" fill="#bdbdbd"/>
<ellipse cx="266.2" cy="507.0" rx="3.6" ry="2.6" fill="#fcfcfc" stroke="#3c3c3c" stroke-width="0.95"/>
<path d="M263.8,508.0 q1.2,-2 2.4,0 t2.4,0" fill="none" stroke="#3c3c3c" stroke-width="0.8"/>
<path d="M262.6,530.8 V522.4 H269.8 V530.8" fill="none" stroke="#4a4a4a" stroke-width="0.8"/>
<line x1="264.1" y1="524.2" x2="268.3" y2="524.2" stroke="#555" stroke-width="0.8"/>
<ellipse cx="275.6" cy="507.0" rx="3.6" ry="2.6" fill="#fcfcfc" stroke="#3c3c3c" stroke-width="0.95"/>
<path d="M273.2,508.0 q1.2,-2 2.4,0 t2.4,0" fill="none" stroke="#3c3c3c" stroke-width="0.8"/>
<path d="M272.0,530.8 V522.4 H279.2 V530.8" fill="none" stroke="#4a4a4a" stroke-width="0.8"/>
<line x1="273.5" y1="524.2" x2="277.6" y2="524.2" stroke="#555" stroke-width="0.8"/>
<ellipse cx="285.0" cy="507.0" rx="3.6" ry="2.6" fill="#fcfcfc" stroke="#3c3c3c" stroke-width="0.95"/>
<path d="M282.6,508.0 q1.2,-2 2.4,0 t2.4,0" fill="none" stroke="#3c3c3c" stroke-width="0.8"/>
<path d="M281.4,530.8 V522.4 H288.5 V530.8" fill="none" stroke="#4a4a4a" stroke-width="0.8"/>
<line x1="282.9" y1="524.2" x2="287.0" y2="524.2" stroke="#555" stroke-width="0.8"/>
<ellipse cx="294.4" cy="507.0" rx="3.6" ry="2.6" fill="#fcfcfc" stroke="#3c3c3c" stroke-width="0.95"/>
<path d="M292.0,508.0 q1.2,-2 2.4,0 t2.4,0" fill="none" stroke="#3c3c3c" stroke-width="0.8"/>
<path d="M290.8,530.8 V522.4 H297.9 V530.8" fill="none" stroke="#4a4a4a" stroke-width="0.8"/>
<line x1="292.3" y1="524.2" x2="296.4" y2="524.2" stroke="#555" stroke-width="0.8"/>
<ellipse cx="303.8" cy="507.0" rx="3.6" ry="2.6" fill="#fcfcfc" stroke="#3c3c3c" stroke-width="0.95"/>
<path d="M301.4,508.0 q1.2,-2 2.4,0 t2.4,0" fill="none" stroke="#3c3c3c" stroke-width="0.8"/>
<path d="M300.2,530.8 V522.4 H307.3 V530.8" fill="none" stroke="#4a4a4a" stroke-width="0.8"/>
<line x1="301.7" y1="524.2" x2="305.8" y2="524.2" stroke="#555" stroke-width="0.8"/>
<ellipse cx="313.1" cy="507.0" rx="3.6" ry="2.6" fill="#fcfcfc" stroke="#3c3c3c" stroke-width="0.95"/>
<path d="M310.7,508.0 q1.2,-2 2.4,0 t2.4,0" fill="none" stroke="#3c3c3c" stroke-width="0.8"/>
<path d="M309.6,530.8 V522.4 H316.7 V530.8" fill="none" stroke="#4a4a4a" stroke-width="0.8"/>
<line x1="311.1" y1="524.2" x2="315.2" y2="524.2" stroke="#555" stroke-width="0.8"/>
<ellipse cx="322.5" cy="507.0" rx="3.6" ry="2.6" fill="#fcfcfc" stroke="#3c3c3c" stroke-width="0.95"/>
<path d="M320.1,508.0 q1.2,-2 2.4,0 t2.4,0" fill="none" stroke="#3c3c3c" stroke-width="0.8"/>
<path d="M319.0,530.8 V522.4 H326.1 V530.8" fill="none" stroke="#4a4a4a" stroke-width="0.8"/>
<line x1="320.5" y1="524.2" x2="324.6" y2="524.2" stroke="#555" stroke-width="0.8"/>
<ellipse cx="331.9" cy="507.0" rx="3.6" ry="2.6" fill="#fcfcfc" stroke="#3c3c3c" stroke-width="0.95"/>
<path d="M329.5,508.0 q1.2,-2 2.4,0 t2.4,0" fill="none" stroke="#3c3c3c" stroke-width="0.8"/>
<path d="M328.3,530.8 V522.4 H335.5 V530.8" fill="none" stroke="#4a4a4a" stroke-width="0.8"/>
<line x1="329.9" y1="524.2" x2="334.0" y2="524.2" stroke="#555" stroke-width="0.8"/>
<ellipse cx="341.3" cy="507.0" rx="3.6" ry="2.6" fill="#fcfcfc" stroke="#3c3c3c" stroke-width="0.95"/>
<path d="M338.9,508.0 q1.2,-2 2.4,0 t2.4,0" fill="none" stroke="#3c3c3c" stroke-width="0.8"/>
<path d="M337.7,530.8 V522.4 H344.9 V530.8" fill="none" stroke="#4a4a4a" stroke-width="0.8"/>
<line x1="339.2" y1="524.2" x2="343.4" y2="524.2" stroke="#555" stroke-width="0.8"/>
<line x1="260.3" y1="503" x2="260.3" y2="532" stroke="#8a8a8a" stroke-width="1.2"/>
<rect x="350.2" y="502" width="37.4" height="30.0" fill="#ccd36c" stroke="#5f6330" stroke-width="0.9"/>
<line x1="350.2" y1="512.8" x2="387.6" y2="512.8" stroke="#9a9a9a" stroke-width="0.6"/>
<rect x="350.7" y="519.4" width="36.4" height="2.4" fill="#9ea345"/>
<ellipse cx="354.9" cy="507.0" rx="3.6" ry="2.6" fill="#ccd36c" stroke="#3c3c3c" stroke-width="0.95"/>
<path d="M352.5,508.0 q1.2,-2 2.4,0 t2.4,0" fill="none" stroke="#3c3c3c" stroke-width="0.8"/>
<path d="M351.3,530.8 V522.4 H358.4 V530.8" fill="none" stroke="#4a4a4a" stroke-width="0.8"/>
<line x1="352.8" y1="524.2" x2="356.9" y2="524.2" stroke="#555" stroke-width="0.8"/>
<ellipse cx="364.2" cy="507.0" rx="3.6" ry="2.6" fill="#ccd36c" stroke="#3c3c3c" stroke-width="0.95"/>
<path d="M361.8,508.0 q1.2,-2 2.4,0 t2.4,0" fill="none" stroke="#3c3c3c" stroke-width="0.8"/>
<path d="M360.7,530.8 V522.4 H367.8 V530.8" fill="none" stroke="#4a4a4a" stroke-width="0.8"/>
<line x1="362.2" y1="524.2" x2="366.3" y2="524.2" stroke="#555" stroke-width="0.8"/>
<ellipse cx="373.6" cy="507.0" rx="3.6" ry="2.6" fill="#ccd36c" stroke="#3c3c3c" stroke-width="0.95"/>
<path d="M371.2,508.0 q1.2,-2 2.4,0 t2.4,0" fill="none" stroke="#3c3c3c" stroke-width="0.8"/>
<path d="M370.0,530.8 V522.4 H377.1 V530.8" fill="none" stroke="#4a4a4a" stroke-width="0.8"/>
<line x1="371.5" y1="524.2" x2="375.6" y2="524.2" stroke="#555" stroke-width="0.8"/>
<ellipse cx="382.9" cy="507.0" rx="3.6" ry="2.6" fill="#ccd36c" stroke="#3c3c3c" stroke-width="0.95"/>
<path d="M380.5,508.0 q1.2,-2 2.4,0 t2.4,0" fill="none" stroke="#3c3c3c" stroke-width="0.8"/>
<path d="M379.4,530.8 V522.4 H386.5 V530.8" fill="none" stroke="#4a4a4a" stroke-width="0.8"/>
<line x1="380.9" y1="524.2" x2="385.0" y2="524.2" stroke="#555" stroke-width="0.8"/>
<line x1="349.0" y1="503" x2="349.0" y2="532" stroke="#8a8a8a" stroke-width="1.2"/>
<rect x="390" y="500" width="39" height="66" fill="#ececec"/>
<path d="M390,511.2 H429 M390,521.2 H429 M423,533.5 H429 M423,547.4 H429" stroke="#999" stroke-width="0.8"/>
<rect x="94.6" y="534" width="38.0" height="30.5" fill="#fcfcfc" stroke="#6a6a6a" stroke-width="0.9"/>
<line x1="94.6" y1="545.0" x2="132.6" y2="545.0" stroke="#9a9a9a" stroke-width="0.6"/>
<rect x="95.1" y="551.7" width="37.0" height="2.4" fill="#bdbdbd"/>
<ellipse cx="99.3" cy="539.0" rx="3.6" ry="2.6" fill="#fcfcfc" stroke="#3c3c3c" stroke-width="0.95"/>
<path d="M96.9,540.0 q1.2,-2 2.4,0 t2.4,0" fill="none" stroke="#3c3c3c" stroke-width="0.8"/>
<path d="M95.7,563.3 V554.7 H103.0 V563.3" fill="none" stroke="#4a4a4a" stroke-width="0.8"/>
<line x1="97.3" y1="556.6" x2="101.4" y2="556.6" stroke="#555" stroke-width="0.8"/>
<ellipse cx="108.8" cy="539.0" rx="3.6" ry="2.6" fill="#fcfcfc" stroke="#3c3c3c" stroke-width="0.95"/>
<path d="M106.4,540.0 q1.2,-2 2.4,0 t2.4,0" fill="none" stroke="#3c3c3c" stroke-width="0.8"/>
<path d="M105.2,563.3 V554.7 H112.5 V563.3" fill="none" stroke="#4a4a4a" stroke-width="0.8"/>
<line x1="106.8" y1="556.6" x2="110.9" y2="556.6" stroke="#555" stroke-width="0.8"/>
<ellipse cx="118.3" cy="539.0" rx="3.6" ry="2.6" fill="#fcfcfc" stroke="#3c3c3c" stroke-width="0.95"/>
<path d="M115.9,540.0 q1.2,-2 2.4,0 t2.4,0" fill="none" stroke="#3c3c3c" stroke-width="0.8"/>
<path d="M114.7,563.3 V554.7 H122.0 V563.3" fill="none" stroke="#4a4a4a" stroke-width="0.8"/>
<line x1="116.3" y1="556.6" x2="120.4" y2="556.6" stroke="#555" stroke-width="0.8"/>
<ellipse cx="127.8" cy="539.0" rx="3.6" ry="2.6" fill="#fcfcfc" stroke="#3c3c3c" stroke-width="0.95"/>
<path d="M125.4,540.0 q1.2,-2 2.4,0 t2.4,0" fill="none" stroke="#3c3c3c" stroke-width="0.8"/>
<path d="M124.2,563.3 V554.7 H131.5 V563.3" fill="none" stroke="#4a4a4a" stroke-width="0.8"/>
<line x1="125.8" y1="556.6" x2="129.9" y2="556.6" stroke="#555" stroke-width="0.8"/>
<line x1="93.39999999999999" y1="535" x2="93.39999999999999" y2="564.5" stroke="#8a8a8a" stroke-width="1.2"/>
<rect x="137" y="534" width="76.0" height="30.5" fill="#fcfcfc" stroke="#6a6a6a" stroke-width="0.9"/>
<line x1="137" y1="545.0" x2="213" y2="545.0" stroke="#9a9a9a" stroke-width="0.6"/>
<rect x="137.5" y="551.7" width="75.0" height="2.4" fill="#bdbdbd"/>
<ellipse cx="141.8" cy="539.0" rx="3.6" ry="2.6" fill="#fcfcfc" stroke="#3c3c3c" stroke-width="0.95"/>
<path d="M139.3,540.0 q1.2,-2 2.4,0 t2.4,0" fill="none" stroke="#3c3c3c" stroke-width="0.8"/>
<path d="M138.1,563.3 V554.7 H145.4 V563.3" fill="none" stroke="#4a4a4a" stroke-width="0.8"/>
<line x1="139.7" y1="556.6" x2="143.8" y2="556.6" stroke="#555" stroke-width="0.8"/>
<ellipse cx="151.2" cy="539.0" rx="3.6" ry="2.6" fill="#fcfcfc" stroke="#3c3c3c" stroke-width="0.95"/>
<path d="M148.8,540.0 q1.2,-2 2.4,0 t2.4,0" fill="none" stroke="#3c3c3c" stroke-width="0.8"/>
<path d="M147.6,563.3 V554.7 H154.9 V563.3" fill="none" stroke="#4a4a4a" stroke-width="0.8"/>
<line x1="149.2" y1="556.6" x2="153.3" y2="556.6" stroke="#555" stroke-width="0.8"/>
<ellipse cx="160.8" cy="539.0" rx="3.6" ry="2.6" fill="#fcfcfc" stroke="#3c3c3c" stroke-width="0.95"/>
<path d="M158.3,540.0 q1.2,-2 2.4,0 t2.4,0" fill="none" stroke="#3c3c3c" stroke-width="0.8"/>
<path d="M157.1,563.3 V554.7 H164.4 V563.3" fill="none" stroke="#4a4a4a" stroke-width="0.8"/>
<line x1="158.7" y1="556.6" x2="162.8" y2="556.6" stroke="#555" stroke-width="0.8"/>
<ellipse cx="170.2" cy="539.0" rx="3.6" ry="2.6" fill="#fcfcfc" stroke="#3c3c3c" stroke-width="0.95"/>
<path d="M167.8,540.0 q1.2,-2 2.4,0 t2.4,0" fill="none" stroke="#3c3c3c" stroke-width="0.8"/>
<path d="M166.6,563.3 V554.7 H173.9 V563.3" fill="none" stroke="#4a4a4a" stroke-width="0.8"/>
<line x1="168.2" y1="556.6" x2="172.3" y2="556.6" stroke="#555" stroke-width="0.8"/>
<ellipse cx="179.8" cy="539.0" rx="3.6" ry="2.6" fill="#fcfcfc" stroke="#3c3c3c" stroke-width="0.95"/>
<path d="M177.3,540.0 q1.2,-2 2.4,0 t2.4,0" fill="none" stroke="#3c3c3c" stroke-width="0.8"/>
<path d="M176.1,563.3 V554.7 H183.4 V563.3" fill="none" stroke="#4a4a4a" stroke-width="0.8"/>
<line x1="177.7" y1="556.6" x2="181.8" y2="556.6" stroke="#555" stroke-width="0.8"/>
<ellipse cx="189.2" cy="539.0" rx="3.6" ry="2.6" fill="#fcfcfc" stroke="#3c3c3c" stroke-width="0.95"/>
<path d="M186.8,540.0 q1.2,-2 2.4,0 t2.4,0" fill="none" stroke="#3c3c3c" stroke-width="0.8"/>
<path d="M185.6,563.3 V554.7 H192.9 V563.3" fill="none" stroke="#4a4a4a" stroke-width="0.8"/>
<line x1="187.2" y1="556.6" x2="191.3" y2="556.6" stroke="#555" stroke-width="0.8"/>
<ellipse cx="198.8" cy="539.0" rx="3.6" ry="2.6" fill="#fcfcfc" stroke="#3c3c3c" stroke-width="0.95"/>
<path d="M196.3,540.0 q1.2,-2 2.4,0 t2.4,0" fill="none" stroke="#3c3c3c" stroke-width="0.8"/>
<path d="M195.1,563.3 V554.7 H202.4 V563.3" fill="none" stroke="#4a4a4a" stroke-width="0.8"/>
<line x1="196.7" y1="556.6" x2="200.8" y2="556.6" stroke="#555" stroke-width="0.8"/>
<ellipse cx="208.2" cy="539.0" rx="3.6" ry="2.6" fill="#fcfcfc" stroke="#3c3c3c" stroke-width="0.95"/>
<path d="M205.8,540.0 q1.2,-2 2.4,0 t2.4,0" fill="none" stroke="#3c3c3c" stroke-width="0.8"/>
<path d="M204.6,563.3 V554.7 H211.9 V563.3" fill="none" stroke="#4a4a4a" stroke-width="0.8"/>
<line x1="206.2" y1="556.6" x2="210.3" y2="556.6" stroke="#555" stroke-width="0.8"/>
<line x1="135.8" y1="535" x2="135.8" y2="564.5" stroke="#8a8a8a" stroke-width="1.2"/>
<rect x="216" y="534" width="47.0" height="30.5" fill="#fcfcfc" stroke="#6a6a6a" stroke-width="0.9"/>
<line x1="216" y1="545.0" x2="263" y2="545.0" stroke="#9a9a9a" stroke-width="0.6"/>
<rect x="216.5" y="551.7" width="46.0" height="2.4" fill="#bdbdbd"/>
<ellipse cx="220.7" cy="539.0" rx="3.6" ry="2.6" fill="#fcfcfc" stroke="#3c3c3c" stroke-width="0.95"/>
<path d="M218.3,540.0 q1.2,-2 2.4,0 t2.4,0" fill="none" stroke="#3c3c3c" stroke-width="0.8"/>
<path d="M217.1,563.3 V554.7 H224.3 V563.3" fill="none" stroke="#4a4a4a" stroke-width="0.8"/>
<line x1="218.6" y1="556.6" x2="222.8" y2="556.6" stroke="#555" stroke-width="0.8"/>
<ellipse cx="230.1" cy="539.0" rx="3.6" ry="2.6" fill="#fcfcfc" stroke="#3c3c3c" stroke-width="0.95"/>
<path d="M227.7,540.0 q1.2,-2 2.4,0 t2.4,0" fill="none" stroke="#3c3c3c" stroke-width="0.8"/>
<path d="M226.5,563.3 V554.7 H233.7 V563.3" fill="none" stroke="#4a4a4a" stroke-width="0.8"/>
<line x1="228.0" y1="556.6" x2="232.2" y2="556.6" stroke="#555" stroke-width="0.8"/>
<ellipse cx="239.5" cy="539.0" rx="3.6" ry="2.6" fill="#fcfcfc" stroke="#3c3c3c" stroke-width="0.95"/>
<path d="M237.1,540.0 q1.2,-2 2.4,0 t2.4,0" fill="none" stroke="#3c3c3c" stroke-width="0.8"/>
<path d="M235.9,563.3 V554.7 H243.1 V563.3" fill="none" stroke="#4a4a4a" stroke-width="0.8"/>
<line x1="237.4" y1="556.6" x2="241.6" y2="556.6" stroke="#555" stroke-width="0.8"/>
<ellipse cx="248.9" cy="539.0" rx="3.6" ry="2.6" fill="#fcfcfc" stroke="#3c3c3c" stroke-width="0.95"/>
<path d="M246.5,540.0 q1.2,-2 2.4,0 t2.4,0" fill="none" stroke="#3c3c3c" stroke-width="0.8"/>
<path d="M245.3,563.3 V554.7 H252.5 V563.3" fill="none" stroke="#4a4a4a" stroke-width="0.8"/>
<line x1="246.8" y1="556.6" x2="251.0" y2="556.6" stroke="#555" stroke-width="0.8"/>
<ellipse cx="258.3" cy="539.0" rx="3.6" ry="2.6" fill="#fcfcfc" stroke="#3c3c3c" stroke-width="0.95"/>
<path d="M255.9,540.0 q1.2,-2 2.4,0 t2.4,0" fill="none" stroke="#3c3c3c" stroke-width="0.8"/>
<path d="M254.7,563.3 V554.7 H261.9 V563.3" fill="none" stroke="#4a4a4a" stroke-width="0.8"/>
<line x1="256.2" y1="556.6" x2="260.4" y2="556.6" stroke="#555" stroke-width="0.8"/>
<line x1="214.8" y1="535" x2="214.8" y2="564.5" stroke="#8a8a8a" stroke-width="1.2"/>
<rect x="267" y="534" width="85.0" height="30.5" fill="#fcfcfc" stroke="#6a6a6a" stroke-width="0.9"/>
<line x1="267" y1="545.0" x2="352" y2="545.0" stroke="#9a9a9a" stroke-width="0.6"/>
<rect x="267.5" y="551.7" width="84.0" height="2.4" fill="#bdbdbd"/>
<ellipse cx="271.7" cy="539.0" rx="3.6" ry="2.6" fill="#fcfcfc" stroke="#3c3c3c" stroke-width="0.95"/>
<path d="M269.3,540.0 q1.2,-2 2.4,0 t2.4,0" fill="none" stroke="#3c3c3c" stroke-width="0.8"/>
<path d="M268.1,563.3 V554.7 H275.3 V563.3" fill="none" stroke="#4a4a4a" stroke-width="0.8"/>
<line x1="269.6" y1="556.6" x2="273.8" y2="556.6" stroke="#555" stroke-width="0.8"/>
<ellipse cx="281.2" cy="539.0" rx="3.6" ry="2.6" fill="#fcfcfc" stroke="#3c3c3c" stroke-width="0.95"/>
<path d="M278.8,540.0 q1.2,-2 2.4,0 t2.4,0" fill="none" stroke="#3c3c3c" stroke-width="0.8"/>
<path d="M277.6,563.3 V554.7 H284.8 V563.3" fill="none" stroke="#4a4a4a" stroke-width="0.8"/>
<line x1="279.1" y1="556.6" x2="283.2" y2="556.6" stroke="#555" stroke-width="0.8"/>
<ellipse cx="290.6" cy="539.0" rx="3.6" ry="2.6" fill="#fcfcfc" stroke="#3c3c3c" stroke-width="0.95"/>
<path d="M288.2,540.0 q1.2,-2 2.4,0 t2.4,0" fill="none" stroke="#3c3c3c" stroke-width="0.8"/>
<path d="M287.0,563.3 V554.7 H294.2 V563.3" fill="none" stroke="#4a4a4a" stroke-width="0.8"/>
<line x1="288.5" y1="556.6" x2="292.7" y2="556.6" stroke="#555" stroke-width="0.8"/>
<ellipse cx="300.1" cy="539.0" rx="3.6" ry="2.6" fill="#fcfcfc" stroke="#3c3c3c" stroke-width="0.95"/>
<path d="M297.7,540.0 q1.2,-2 2.4,0 t2.4,0" fill="none" stroke="#3c3c3c" stroke-width="0.8"/>
<path d="M296.5,563.3 V554.7 H303.6 V563.3" fill="none" stroke="#4a4a4a" stroke-width="0.8"/>
<line x1="298.0" y1="556.6" x2="302.1" y2="556.6" stroke="#555" stroke-width="0.8"/>
<ellipse cx="309.5" cy="539.0" rx="3.6" ry="2.6" fill="#fcfcfc" stroke="#3c3c3c" stroke-width="0.95"/>
<path d="M307.1,540.0 q1.2,-2 2.4,0 t2.4,0" fill="none" stroke="#3c3c3c" stroke-width="0.8"/>
<path d="M305.9,563.3 V554.7 H313.1 V563.3" fill="none" stroke="#4a4a4a" stroke-width="0.8"/>
<line x1="307.4" y1="556.6" x2="311.6" y2="556.6" stroke="#555" stroke-width="0.8"/>
<ellipse cx="318.9" cy="539.0" rx="3.6" ry="2.6" fill="#fcfcfc" stroke="#3c3c3c" stroke-width="0.95"/>
<path d="M316.5,540.0 q1.2,-2 2.4,0 t2.4,0" fill="none" stroke="#3c3c3c" stroke-width="0.8"/>
<path d="M315.4,563.3 V554.7 H322.5 V563.3" fill="none" stroke="#4a4a4a" stroke-width="0.8"/>
<line x1="316.9" y1="556.6" x2="321.0" y2="556.6" stroke="#555" stroke-width="0.8"/>
<ellipse cx="328.4" cy="539.0" rx="3.6" ry="2.6" fill="#fcfcfc" stroke="#3c3c3c" stroke-width="0.95"/>
<path d="M326.0,540.0 q1.2,-2 2.4,0 t2.4,0" fill="none" stroke="#3c3c3c" stroke-width="0.8"/>
<path d="M324.8,563.3 V554.7 H332.0 V563.3" fill="none" stroke="#4a4a4a" stroke-width="0.8"/>
<line x1="326.3" y1="556.6" x2="330.5" y2="556.6" stroke="#555" stroke-width="0.8"/>
<ellipse cx="337.8" cy="539.0" rx="3.6" ry="2.6" fill="#fcfcfc" stroke="#3c3c3c" stroke-width="0.95"/>
<path d="M335.4,540.0 q1.2,-2 2.4,0 t2.4,0" fill="none" stroke="#3c3c3c" stroke-width="0.8"/>
<path d="M334.2,563.3 V554.7 H341.4 V563.3" fill="none" stroke="#4a4a4a" stroke-width="0.8"/>
<line x1="335.8" y1="556.6" x2="339.9" y2="556.6" stroke="#555" stroke-width="0.8"/>
<ellipse cx="347.3" cy="539.0" rx="3.6" ry="2.6" fill="#fcfcfc" stroke="#3c3c3c" stroke-width="0.95"/>
<path d="M344.9,540.0 q1.2,-2 2.4,0 t2.4,0" fill="none" stroke="#3c3c3c" stroke-width="0.8"/>
<path d="M343.7,563.3 V554.7 H350.9 V563.3" fill="none" stroke="#4a4a4a" stroke-width="0.8"/>
<line x1="345.2" y1="556.6" x2="349.4" y2="556.6" stroke="#555" stroke-width="0.8"/>
<line x1="265.8" y1="535" x2="265.8" y2="564.5" stroke="#8a8a8a" stroke-width="1.2"/>
<rect x="356" y="534" width="34.9" height="30.5" fill="#ccd36c" stroke="#5f6330" stroke-width="0.9"/>
<line x1="356" y1="545.0" x2="390.9" y2="545.0" stroke="#9a9a9a" stroke-width="0.6"/>
<rect x="356.5" y="551.7" width="33.9" height="2.4" fill="#9ea345"/>
<ellipse cx="360.4" cy="539.0" rx="3.3" ry="2.6" fill="#ccd36c" stroke="#3c3c3c" stroke-width="0.95"/>
<path d="M358.0,540.0 q1.2,-2 2.4,0 t2.4,0" fill="none" stroke="#3c3c3c" stroke-width="0.8"/>
<path d="M357.0,563.3 V554.7 H363.7 V563.3" fill="none" stroke="#4a4a4a" stroke-width="0.8"/>
<line x1="358.4" y1="556.6" x2="362.3" y2="556.6" stroke="#555" stroke-width="0.8"/>
<ellipse cx="369.1" cy="539.0" rx="3.3" ry="2.6" fill="#ccd36c" stroke="#3c3c3c" stroke-width="0.95"/>
<path d="M366.7,540.0 q1.2,-2 2.4,0 t2.4,0" fill="none" stroke="#3c3c3c" stroke-width="0.8"/>
<path d="M365.8,563.3 V554.7 H372.4 V563.3" fill="none" stroke="#4a4a4a" stroke-width="0.8"/>
<line x1="367.2" y1="556.6" x2="371.0" y2="556.6" stroke="#555" stroke-width="0.8"/>
<ellipse cx="377.8" cy="539.0" rx="3.3" ry="2.6" fill="#ccd36c" stroke="#3c3c3c" stroke-width="0.95"/>
<path d="M375.4,540.0 q1.2,-2 2.4,0 t2.4,0" fill="none" stroke="#3c3c3c" stroke-width="0.8"/>
<path d="M374.5,563.3 V554.7 H381.1 V563.3" fill="none" stroke="#4a4a4a" stroke-width="0.8"/>
<line x1="375.9" y1="556.6" x2="379.7" y2="556.6" stroke="#555" stroke-width="0.8"/>
<ellipse cx="386.5" cy="539.0" rx="3.3" ry="2.6" fill="#ccd36c" stroke="#3c3c3c" stroke-width="0.95"/>
<path d="M384.1,540.0 q1.2,-2 2.4,0 t2.4,0" fill="none" stroke="#3c3c3c" stroke-width="0.8"/>
<path d="M383.2,563.3 V554.7 H389.9 V563.3" fill="none" stroke="#4a4a4a" stroke-width="0.8"/>
<line x1="384.6" y1="556.6" x2="388.5" y2="556.6" stroke="#555" stroke-width="0.8"/>
<line x1="354.8" y1="535" x2="354.8" y2="564.5" stroke="#8a8a8a" stroke-width="1.2"/>
<rect x="396.2" y="526.2" width="26.9" height="38.5" fill="#fcfcfc" stroke="#6a6a6a" stroke-width="0.9"/>
<line x1="396.2" y1="540.1" x2="423.1" y2="540.1" stroke="#9a9a9a" stroke-width="0.6"/>
<rect x="396.7" y="548.5" width="25.9" height="2.4" fill="#bdbdbd"/>
<ellipse cx="400.7" cy="531.2" rx="3.4" ry="2.6" fill="#fcfcfc" stroke="#3c3c3c" stroke-width="0.95"/>
<path d="M398.3,532.2 q1.2,-2 2.4,0 t2.4,0" fill="none" stroke="#3c3c3c" stroke-width="0.8"/>
<path d="M397.3,563.5 V552.4 H404.1 V563.5" fill="none" stroke="#4a4a4a" stroke-width="0.8"/>
<line x1="398.7" y1="554.7" x2="402.7" y2="554.7" stroke="#555" stroke-width="0.8"/>
<ellipse cx="409.6" cy="531.2" rx="3.4" ry="2.6" fill="#fcfcfc" stroke="#3c3c3c" stroke-width="0.95"/>
<path d="M407.2,532.2 q1.2,-2 2.4,0 t2.4,0" fill="none" stroke="#3c3c3c" stroke-width="0.8"/>
<path d="M406.2,563.5 V552.4 H413.1 V563.5" fill="none" stroke="#4a4a4a" stroke-width="0.8"/>
<line x1="407.7" y1="554.7" x2="411.6" y2="554.7" stroke="#555" stroke-width="0.8"/>
<ellipse cx="418.6" cy="531.2" rx="3.4" ry="2.6" fill="#fcfcfc" stroke="#3c3c3c" stroke-width="0.95"/>
<path d="M416.2,532.2 q1.2,-2 2.4,0 t2.4,0" fill="none" stroke="#3c3c3c" stroke-width="0.8"/>
<path d="M415.2,563.5 V552.4 H422.0 V563.5" fill="none" stroke="#4a4a4a" stroke-width="0.8"/>
<line x1="416.6" y1="554.7" x2="420.6" y2="554.7" stroke="#555" stroke-width="0.8"/>
<line x1="395.0" y1="527.2" x2="395.0" y2="564.7" stroke="#8a8a8a" stroke-width="1.2"/>
<line x1="84" y1="568.8" x2="430" y2="568.8" stroke="#444" stroke-width="0.9"/>
<rect x="87" y="558" width="8" height="10.5" fill="#fff" stroke="#777" stroke-width="0.7"/>
<line x1="665" y1="568.8" x2="682" y2="568.8" stroke="#444" stroke-width="0.9"/>
<rect x="315.1" y="445.4" width="86.8" height="15.3" fill="#6d6d6d"/>
<text x="316.2" y="459" font-size="13.9" fill="#fff" textLength="84.2" lengthAdjust="spacingAndGlyphs">ANALOG OUT</text>
<rect x="315.1" y="460.7" width="21.5" height="15.2" fill="#ccd16e" stroke="#555" stroke-width="0.9"/>
<text x="325.9" y="473.5" font-size="14" fill="#222" text-anchor="middle">54</text>
<rect x="336.6" y="460.7" width="21.8" height="15.2" fill="#fff" stroke="#555" stroke-width="0.9"/>
<text x="347.5" y="473.5" font-size="14" fill="#222" text-anchor="middle">56</text>
<rect x="358.4" y="460.7" width="21.8" height="15.2" fill="#ccd16e" stroke="#555" stroke-width="0.9"/>
<text x="369.3" y="473.5" font-size="14" fill="#222" text-anchor="middle">58</text>
<rect x="380.2" y="460.7" width="21.7" height="15.2" fill="#fff" stroke="#555" stroke-width="0.9"/>
<text x="391.0" y="473.5" font-size="14" fill="#222" text-anchor="middle">64</text>
<rect x="325.3" y="481.4" width="21.3" height="14.8" fill="#ccd16e" stroke="#555" stroke-width="0.9"/>
<text x="336.0" y="493.8" font-size="14" fill="#222" text-anchor="middle">53</text>
<rect x="346.6" y="481.4" width="21.8" height="14.8" fill="#fff" stroke="#555" stroke-width="0.9"/>
<text x="357.5" y="493.8" font-size="14" fill="#222" text-anchor="middle">55</text>
<rect x="368.4" y="481.4" width="21.8" height="14.8" fill="#ccd16e" stroke="#555" stroke-width="0.9"/>
<text x="379.3" y="493.8" font-size="14" fill="#222" text-anchor="middle">57</text>
<rect x="390.2" y="481.4" width="21.1" height="14.8" fill="#fff" stroke="#555" stroke-width="0.9"/>
<text x="400.8" y="493.8" font-size="14" fill="#222" text-anchor="middle">63</text>
<path d="M355,526 C355,568 322,587 264.6,587.1" fill="none" stroke="#0a8cd2" stroke-width="4.4" stroke-linecap="round"/>
<path d="M360.4,557.7 C357,588 322,604.5 264.6,604.5" fill="none" stroke="#a85a45" stroke-width="4.4" stroke-linecap="round"/>
<text x="258.5" y="591.4" font-size="13.5" fill="#0a84cc" text-anchor="end">AO1</text>
<text x="258.5" y="608.8" font-size="13.5" fill="#a0553f" text-anchor="end">GND</text>
<rect x="429" y="354" width="236.9" height="258.9" rx="7.5" fill="#dff0fc"/>
<rect x="435.9" y="361.1" width="91.8" height="16.1" fill="#6d6d6d"/>
<text x="438.5" y="374.6" font-size="13.9" fill="#fff" textLength="85.5" lengthAdjust="spacingAndGlyphs">ANALOG OUT</text>
<rect x="435.5" y="414.5" width="29.4" height="29" fill="#0a84cc" stroke="#1a1a1a" stroke-width="1.1"/>
<circle cx="450.2" cy="428.7" r="10.4" fill="#fff" stroke="#151515" stroke-width="1.1"/>
<text x="450.2" y="433.6" font-size="14" fill="#111" text-anchor="middle">1</text>
<path d="M437.2,440.8 h5 M439.7,438.3 v5" stroke="#fff" stroke-width="1.3"/>
<rect x="458.7" y="440.3" width="3" height="0.9" fill="#cfe6f7"/>
<rect x="474.1" y="414.5" width="29.4" height="29" fill="#0a84cc" stroke="#1a1a1a" stroke-width="1.1"/>
<circle cx="488.8" cy="428.7" r="10.4" fill="#fff" stroke="#151515" stroke-width="1.1"/>
<text x="488.8" y="433.6" font-size="14" fill="#111" text-anchor="middle">2</text>
<path d="M475.8,440.8 h5 M478.3,438.3 v5" stroke="#fff" stroke-width="1.3"/>
<rect x="497.3" y="440.3" width="3" height="0.9" fill="#cfe6f7"/>
<rect x="512.7" y="414.5" width="29.4" height="29" fill="#0a84cc" stroke="#1a1a1a" stroke-width="1.1"/>
<circle cx="527.4" cy="428.7" r="10.4" fill="#fff" stroke="#151515" stroke-width="1.1"/>
<text x="527.4" y="433.6" font-size="14" fill="#111" text-anchor="middle">3</text>
<path d="M514.4,440.8 h5 M516.9,438.3 v5" stroke="#fff" stroke-width="1.3"/>
<rect x="535.9" y="440.3" width="3" height="0.9" fill="#cfe6f7"/>
<rect x="551.3" y="414.5" width="29.4" height="29" fill="#0a84cc" stroke="#1a1a1a" stroke-width="1.1"/>
<circle cx="566.0" cy="428.7" r="10.4" fill="#fff" stroke="#151515" stroke-width="1.1"/>
<text x="566.0" y="433.6" font-size="14" fill="#111" text-anchor="middle">4</text>
<path d="M553.0,440.8 h5 M555.5,438.3 v5" stroke="#fff" stroke-width="1.3"/>
<rect x="574.5" y="440.3" width="3" height="0.9" fill="#cfe6f7"/>
<line x1="588.7" y1="504" x2="588.7" y2="562.5" stroke="#222" stroke-width="1.1" stroke-dasharray="1.1,2.6"/>
<ellipse cx="588.9" cy="455" rx="3.4" ry="5.3" fill="none" stroke="#111" stroke-width="1" stroke-dasharray="1.6,2.8"/>
<ellipse cx="588.9" cy="469.5" rx="3.4" ry="5.3" fill="none" stroke="#111" stroke-width="1" stroke-dasharray="1.6,2.8"/>
<ellipse cx="588.9" cy="484" rx="3.4" ry="5.3" fill="none" stroke="#111" stroke-width="1" stroke-dasharray="1.6,2.8"/>
<ellipse cx="588.9" cy="498.6" rx="3.4" ry="5.3" fill="none" stroke="#111" stroke-width="1" stroke-dasharray="1.6,2.8"/>
<circle cx="588.7" cy="565.7" r="2.4" fill="#fff" stroke="#222" stroke-width="0.8"/>
<text x="517" y="569" font-size="13.5" fill="#111">PE (SHLD)</text>
<rect x="596.3" y="395.3" width="62.3" height="48" fill="#e6ea7a" stroke="#55582a" stroke-width="0.8"/>
<path d="M596.3,397.3 Q594.8,419.3 596.3,441.3" fill="none" stroke="#333" stroke-width="0.9"/>
<path d="M658.6,397.3 Q660.1,419.3 658.6,441.3" fill="none" stroke="#333" stroke-width="0.9"/>
<line x1="596.3" y1="412.3" x2="658.6" y2="412.3" stroke="#8f9345" stroke-width="0.6"/>
<line x1="596.3" y1="424.7" x2="658.6" y2="424.7" stroke="#3d4018" stroke-width="0.9"/>
<ellipse cx="603.6" cy="401.1" rx="5.9" ry="3.9" fill="#bcc05c" stroke="#2a2c10" stroke-width="0.9" stroke-dasharray="2,0.8"/>
<path d="M600.1,402.5 q3.5,-2.5 7,0" fill="none" stroke="#333" stroke-width="0.8"/>
<path d="M599.5,440.3 l-1.2,-14.5 h15.4 l-1.2,14.5" fill="none" stroke="#4d5020" stroke-width="0.8"/>
<rect x="601.7" y="427.90000000000003" width="8.4" height="4.3" fill="#0c0c0c"/>
<circle cx="606" cy="435.1" r="3.6" fill="#0a8ad6"/>
<ellipse cx="619.4" cy="401.1" rx="5.9" ry="3.9" fill="#bcc05c" stroke="#2a2c10" stroke-width="0.9" stroke-dasharray="2,0.8"/>
<path d="M615.9,402.5 q3.5,-2.5 7,0" fill="none" stroke="#333" stroke-width="0.8"/>
<path d="M613.5,440.3 l-1.2,-14.5 h15.4 l-1.2,14.5" fill="none" stroke="#4d5020" stroke-width="0.8"/>
<rect x="615.7" y="427.90000000000003" width="8.4" height="4.3" fill="#0c0c0c"/>
<circle cx="620" cy="435.1" r="3.6" fill="#0a8ad6"/>
<ellipse cx="635" cy="401.1" rx="5.9" ry="3.9" fill="#bcc05c" stroke="#2a2c10" stroke-width="0.9" stroke-dasharray="2,0.8"/>
<path d="M631.5,402.5 q3.5,-2.5 7,0" fill="none" stroke="#333" stroke-width="0.8"/>
<path d="M628.2,440.3 l-1.2,-14.5 h15.4 l-1.2,14.5" fill="none" stroke="#4d5020" stroke-width="0.8"/>
<rect x="630.4000000000001" y="427.90000000000003" width="8.4" height="4.3" fill="#0c0c0c"/>
<circle cx="634.7" cy="435.1" r="3.6" fill="#0a8ad6"/>
<ellipse cx="650.5" cy="401.1" rx="5.9" ry="3.9" fill="#bcc05c" stroke="#2a2c10" stroke-width="0.9" stroke-dasharray="2,0.8"/>
<path d="M647.0,402.5 q3.5,-2.5 7,0" fill="none" stroke="#333" stroke-width="0.8"/>
<path d="M642.6,440.3 l-1.2,-14.5 h15.4 l-1.2,14.5" fill="none" stroke="#4d5020" stroke-width="0.8"/>
<rect x="644.8000000000001" y="427.90000000000003" width="8.4" height="4.3" fill="#0c0c0c"/>
<circle cx="649.1" cy="435.1" r="3.6" fill="#0a8ad6"/>
<rect x="596.3" y="527.2" width="62.3" height="48" fill="#e6ea7a" stroke="#55582a" stroke-width="0.8"/>
<path d="M596.3,529.2 Q594.8,551.2 596.3,573.2" fill="none" stroke="#333" stroke-width="0.9"/>
<path d="M658.6,529.2 Q660.1,551.2 658.6,573.2" fill="none" stroke="#333" stroke-width="0.9"/>
<line x1="596.3" y1="544.2" x2="658.6" y2="544.2" stroke="#8f9345" stroke-width="0.6"/>
<line x1="596.3" y1="556.6" x2="658.6" y2="556.6" stroke="#3d4018" stroke-width="0.9"/>
<ellipse cx="604.8" cy="533.0" rx="5.9" ry="3.9" fill="#bcc05c" stroke="#2a2c10" stroke-width="0.9" stroke-dasharray="2,0.8"/>
<path d="M601.3,534.4000000000001 q3.5,-2.5 7,0" fill="none" stroke="#333" stroke-width="0.8"/>
<path d="M599.5,572.2 l-1.2,-14.5 h15.4 l-1.2,14.5" fill="none" stroke="#4d5020" stroke-width="0.8"/>
<rect x="601.7" y="559.8000000000001" width="8.4" height="4.3" fill="#0c0c0c"/>
<circle cx="606" cy="567.0" r="3.6" fill="#b0503c"/>
<ellipse cx="619.3" cy="533.0" rx="5.9" ry="3.9" fill="#bcc05c" stroke="#2a2c10" stroke-width="0.9" stroke-dasharray="2,0.8"/>
<path d="M615.8,534.4000000000001 q3.5,-2.5 7,0" fill="none" stroke="#333" stroke-width="0.8"/>
<path d="M613.5,572.2 l-1.2,-14.5 h15.4 l-1.2,14.5" fill="none" stroke="#4d5020" stroke-width="0.8"/>
<rect x="615.7" y="559.8000000000001" width="8.4" height="4.3" fill="#0c0c0c"/>
<circle cx="620" cy="567.0" r="3.6" fill="#b0503c"/>
<ellipse cx="634.8" cy="533.0" rx="5.9" ry="3.9" fill="#bcc05c" stroke="#2a2c10" stroke-width="0.9" stroke-dasharray="2,0.8"/>
<path d="M631.3,534.4000000000001 q3.5,-2.5 7,0" fill="none" stroke="#333" stroke-width="0.8"/>
<path d="M628.2,572.2 l-1.2,-14.5 h15.4 l-1.2,14.5" fill="none" stroke="#4d5020" stroke-width="0.8"/>
<rect x="630.4000000000001" y="559.8000000000001" width="8.4" height="4.3" fill="#0c0c0c"/>
<circle cx="634.7" cy="567.0" r="3.6" fill="#b0503c"/>
<ellipse cx="649.3" cy="533.0" rx="5.9" ry="3.9" fill="#bcc05c" stroke="#2a2c10" stroke-width="0.9" stroke-dasharray="2,0.8"/>
<path d="M645.8,534.4000000000001 q3.5,-2.5 7,0" fill="none" stroke="#333" stroke-width="0.8"/>
<path d="M642.6,572.2 l-1.2,-14.5 h15.4 l-1.2,14.5" fill="none" stroke="#4d5020" stroke-width="0.8"/>
<rect x="644.8000000000001" y="559.8000000000001" width="8.4" height="4.3" fill="#0c0c0c"/>
<circle cx="649.1" cy="567.0" r="3.6" fill="#b0503c"/>
<polyline points="453.6,444 453.6,457.8 606,457.8 606,563" fill="none" stroke="#b9735f" stroke-width="1.5"/>
<polyline points="492.6,444 492.6,472 620,472 620,563" fill="none" stroke="#b9735f" stroke-width="1.5"/>
<polyline points="531.5,444 531.5,486.7 634.7,486.7 634.7,563" fill="none" stroke="#b9735f" stroke-width="1.5"/>
<polyline points="569.9,444 569.9,501.7 649.1,501.7 649.1,563" fill="none" stroke="#b9735f" stroke-width="1.5"/>
<polyline points="446.7,444 446.7,452.2 606,452.2 606,436" fill="none" stroke="#2fa4e0" stroke-width="1.5"/>
<polyline points="485.6,444 485.6,467 620,467 620,436" fill="none" stroke="#2fa4e0" stroke-width="1.5"/>
<polyline points="524.5,444 524.5,481.4 634.7,481.4 634.7,436" fill="none" stroke="#2fa4e0" stroke-width="1.5"/>
<polyline points="562.9,444 562.9,495.6 649.1,495.6 649.1,436" fill="none" stroke="#2fa4e0" stroke-width="1.5"/>
<rect x="600.8" y="378" width="6.8" height="13" fill="#0a84cc"/>
<text transform="translate(608.9,375.3) rotate(-90)" font-size="13.3" fill="#444">54</text>
<rect x="602.8" y="578.1" width="6.2" height="13.2" fill="#b0503c"/>
<text transform="translate(609.9,609.8) rotate(-90)" font-size="13.3" fill="#444">53</text>
<rect x="616.2" y="378" width="6.8" height="13" fill="#0a84cc"/>
<text transform="translate(624.3,375.3) rotate(-90)" font-size="13.3" fill="#444">56</text>
<rect x="616.8" y="578.1" width="6.2" height="13.2" fill="#b0503c"/>
<text transform="translate(623.9,609.8) rotate(-90)" font-size="13.3" fill="#444">55</text>
<rect x="631.8" y="378" width="6.8" height="13" fill="#0a84cc"/>
<text transform="translate(639.9,375.3) rotate(-90)" font-size="13.3" fill="#444">58</text>
<rect x="631.5" y="578.1" width="6.2" height="13.2" fill="#b0503c"/>
<text transform="translate(638.6,609.8) rotate(-90)" font-size="13.3" fill="#444">57</text>
<rect x="647.0" y="378" width="6.8" height="13" fill="#0a84cc"/>
<text transform="translate(655.1,375.3) rotate(-90)" font-size="13.3" fill="#444">64</text>
<rect x="645.9" y="578.1" width="6.2" height="13.2" fill="#b0503c"/>
<text transform="translate(653.0,609.8) rotate(-90)" font-size="13.3" fill="#444">63</text>
</svg>
<div class="box" id="warn"></div>
<svg class="abs" style="left:83px;top:636px" width="18" height="18" viewBox="0 0 18 18"><circle cx="8.6" cy="9.3" r="6.55" fill="none" stroke="#1d5ca9" stroke-width="1.7"/><rect x="7.5" y="8.2" width="2.2" height="5.5" rx="0.8" fill="#1d5ca9"/><circle cx="8.6" cy="5.9" r="1.05" fill="#1d5ca9"/></svg>
<div class="abs" style="left:111px;top:635.15px;font-size:14px;line-height:16px;color:#111;font-weight:bold;">ACHTUNG</div>
<div class="abs" style="left:111px;top:660.28px;font-size:13.9px;line-height:16px;color:#151515;"><b>Funktionsstörung durch Störeinflüsse!</b> Alle Zuleitungen von und zur Steuerung (mit Ausnahme der</div>
<div class="abs" style="left:111px;top:676.81px;font-size:13.9px;line-height:16px;color:#151515;">230 V Versorgungs- und Signalleitungen) sind in geschirmter Ausfertigung (Kabeltyp: LiYCY)</div>
<div class="abs" style="left:111px;top:693.34px;font-size:13.9px;line-height:16px;color:#151515;">vorzusehen! Dies gilt insbesondere für die analogen Ein- und Ausgänge (z.B. Fühlerzuleitungen).</div>
<div class="abs" style="left:111px;top:709.87px;font-size:13.9px;line-height:16px;color:#151515;">Generell muss beachtet werden, dass Signalleitungen und Leitungen mit Netzspannung in getrennten</div>
<div class="abs" style="left:111px;top:726.40px;font-size:13.9px;line-height:16px;color:#151515;">Kabelkanälen verlegt werden.</div>
<div class="abs" style="left:71px;top:1122.52px;font-size:13.8px;line-height:16px;color:#111;">Firmware V5.44</div>
<div class="abs" style="left:379.8px;top:1122.52px;font-size:13.8px;line-height:16px;color:#111;">16.05.2023</div>
<div class="abs" style="left:706.2px;top:1122.52px;font-size:13.8px;line-height:16px;color:#111;">136/199</div>
</body></html>
